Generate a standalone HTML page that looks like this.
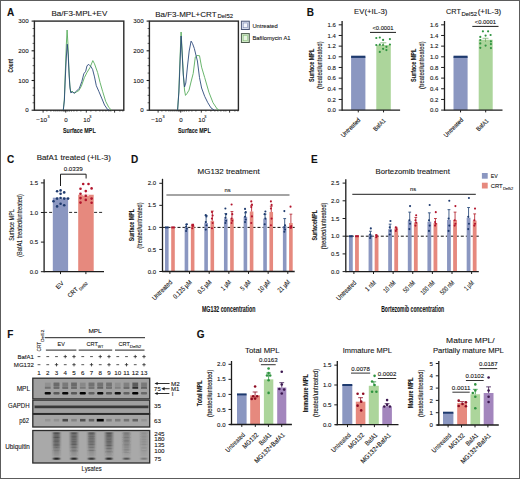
<!DOCTYPE html>
<html><head><meta charset="utf-8"><style>
html,body{margin:0;padding:0;background:#fff;}
svg{display:block;font-family:"Liberation Sans", sans-serif;}
text{stroke:#151515;stroke-width:0.1px;}
</style></head><body>
<svg width="520" height="479" viewBox="0 0 520 479" fill="#151515">
<rect width="520" height="479" fill="#fff"/>
<rect x="0.5" y="0.5" width="519" height="478" fill="none" stroke="#5c5c5c" stroke-width="1"/>
<text x="7" y="16" font-size="10" font-weight="bold" fill="#111">A</text>
<text x="306.8" y="15.5" font-size="10" font-weight="bold" fill="#111">B</text>
<text x="6.9" y="163" font-size="10" font-weight="bold" fill="#111">C</text>
<text x="130.9" y="162.8" font-size="10" font-weight="bold" fill="#111">D</text>
<text x="310.9" y="162.6" font-size="10" font-weight="bold" fill="#111">E</text>
<text x="7.3" y="337.8" font-size="10" font-weight="bold" fill="#111">F</text>
<text x="196.7" y="337.6" font-size="10" font-weight="bold" fill="#111">G</text>
<text x="51.5" y="16.1" font-size="8" textLength="55.8" lengthAdjust="spacingAndGlyphs">Ba/F3-MPL+EV</text>
<text x="155.2" y="16.6" font-size="8" textLength="61.4" lengthAdjust="spacingAndGlyphs">Ba/F3-MPL+CRT</text>
<text x="217.5" y="18.3" font-size="5.5" textLength="15.5" lengthAdjust="spacingAndGlyphs">Del52</text>
<rect x="34.4" y="21.1" width="89.4" height="89.1" fill="none" stroke="#2a2a2a" stroke-width="1.4"/>
<line x1="31.6" y1="21.1" x2="34.4" y2="21.1" stroke="#1c1c1c" stroke-width="1.1" />
<text x="28.7" y="23.3" font-size="6.2" text-anchor="end">300</text>
<line x1="31.6" y1="50.8" x2="34.4" y2="50.8" stroke="#1c1c1c" stroke-width="1.1" />
<text x="28.7" y="53" font-size="6.2" text-anchor="end">200</text>
<line x1="31.6" y1="80.5" x2="34.4" y2="80.5" stroke="#1c1c1c" stroke-width="1.1" />
<text x="28.7" y="82.7" font-size="6.2" text-anchor="end">100</text>
<line x1="31.6" y1="110.2" x2="34.4" y2="110.2" stroke="#1c1c1c" stroke-width="1.1" />
<text x="28.7" y="112.4" font-size="6.2" text-anchor="end">0</text>
<line x1="32.6" y1="28.53" x2="34.4" y2="28.53" stroke="#1c1c1c" stroke-width="0.7" />
<line x1="32.6" y1="35.95" x2="34.4" y2="35.95" stroke="#1c1c1c" stroke-width="0.7" />
<line x1="32.6" y1="43.38" x2="34.4" y2="43.38" stroke="#1c1c1c" stroke-width="0.7" />
<line x1="32.6" y1="58.23" x2="34.4" y2="58.23" stroke="#1c1c1c" stroke-width="0.7" />
<line x1="32.6" y1="65.65" x2="34.4" y2="65.65" stroke="#1c1c1c" stroke-width="0.7" />
<line x1="32.6" y1="73.08" x2="34.4" y2="73.08" stroke="#1c1c1c" stroke-width="0.7" />
<line x1="32.6" y1="87.93" x2="34.4" y2="87.93" stroke="#1c1c1c" stroke-width="0.7" />
<line x1="32.6" y1="95.35" x2="34.4" y2="95.35" stroke="#1c1c1c" stroke-width="0.7" />
<line x1="32.6" y1="102.78" x2="34.4" y2="102.78" stroke="#1c1c1c" stroke-width="0.7" />
<line x1="43.1" y1="110.2" x2="43.1" y2="112.6" stroke="#1c1c1c" stroke-width="0.9" />
<line x1="65.7" y1="110.2" x2="65.7" y2="112.6" stroke="#1c1c1c" stroke-width="0.9" />
<line x1="86.3" y1="110.2" x2="86.3" y2="112.6" stroke="#1c1c1c" stroke-width="0.9" />
<line x1="114.6" y1="110.2" x2="114.6" y2="112.6" stroke="#1c1c1c" stroke-width="0.9" />
<line x1="46.9" y1="110.2" x2="46.9" y2="111.8" stroke="#1c1c1c" stroke-width="0.5" />
<line x1="50.9" y1="110.2" x2="50.9" y2="111.8" stroke="#1c1c1c" stroke-width="0.5" />
<line x1="53.9" y1="110.2" x2="53.9" y2="111.8" stroke="#1c1c1c" stroke-width="0.5" />
<line x1="55.9" y1="110.2" x2="55.9" y2="111.8" stroke="#1c1c1c" stroke-width="0.5" />
<line x1="57.9" y1="110.2" x2="57.9" y2="111.8" stroke="#1c1c1c" stroke-width="0.5" />
<line x1="59.9" y1="110.2" x2="59.9" y2="111.8" stroke="#1c1c1c" stroke-width="0.5" />
<line x1="61.9" y1="110.2" x2="61.9" y2="111.8" stroke="#1c1c1c" stroke-width="0.5" />
<line x1="63.4" y1="110.2" x2="63.4" y2="111.8" stroke="#1c1c1c" stroke-width="0.5" />
<line x1="64.4" y1="110.2" x2="64.4" y2="111.8" stroke="#1c1c1c" stroke-width="0.5" />
<line x1="66.9" y1="110.2" x2="66.9" y2="111.8" stroke="#1c1c1c" stroke-width="0.5" />
<line x1="67.9" y1="110.2" x2="67.9" y2="111.8" stroke="#1c1c1c" stroke-width="0.5" />
<line x1="69.4" y1="110.2" x2="69.4" y2="111.8" stroke="#1c1c1c" stroke-width="0.5" />
<line x1="71.4" y1="110.2" x2="71.4" y2="111.8" stroke="#1c1c1c" stroke-width="0.5" />
<line x1="73.9" y1="110.2" x2="73.9" y2="111.8" stroke="#1c1c1c" stroke-width="0.5" />
<line x1="76.9" y1="110.2" x2="76.9" y2="111.8" stroke="#1c1c1c" stroke-width="0.5" />
<line x1="80.9" y1="110.2" x2="80.9" y2="111.8" stroke="#1c1c1c" stroke-width="0.5" />
<line x1="90.9" y1="110.2" x2="90.9" y2="111.8" stroke="#1c1c1c" stroke-width="0.5" />
<line x1="95.9" y1="110.2" x2="95.9" y2="111.8" stroke="#1c1c1c" stroke-width="0.5" />
<line x1="99.9" y1="110.2" x2="99.9" y2="111.8" stroke="#1c1c1c" stroke-width="0.5" />
<line x1="102.9" y1="110.2" x2="102.9" y2="111.8" stroke="#1c1c1c" stroke-width="0.5" />
<line x1="105.9" y1="110.2" x2="105.9" y2="111.8" stroke="#1c1c1c" stroke-width="0.5" />
<line x1="108.9" y1="110.2" x2="108.9" y2="111.8" stroke="#1c1c1c" stroke-width="0.5" />
<line x1="110.9" y1="110.2" x2="110.9" y2="111.8" stroke="#1c1c1c" stroke-width="0.5" />
<line x1="119.9" y1="110.2" x2="119.9" y2="111.8" stroke="#1c1c1c" stroke-width="0.5" />
<line x1="122.9" y1="110.2" x2="122.9" y2="111.8" stroke="#1c1c1c" stroke-width="0.5" />
<text x="36.2" y="121.6" font-size="6.2" textLength="11" lengthAdjust="spacingAndGlyphs">−10</text>
<text x="47.6" y="118.2" font-size="3.8">3</text>
<text x="65.9" y="121.6" font-size="6.2" text-anchor="middle">0</text>
<text x="83.2" y="121.6" font-size="6.2">10</text>
<text x="89.3" y="118.2" font-size="3.8">3</text>
<text x="63" y="132.9" font-size="7.8" font-weight="bold" textLength="32.7" lengthAdjust="spacingAndGlyphs">Surface MPL</text>
<rect x="149.4" y="21.1" width="89" height="89.1" fill="none" stroke="#2a2a2a" stroke-width="1.4"/>
<line x1="146.6" y1="21.1" x2="149.4" y2="21.1" stroke="#1c1c1c" stroke-width="1.1" />
<text x="143.7" y="23.3" font-size="6.2" text-anchor="end">300</text>
<line x1="146.6" y1="50.8" x2="149.4" y2="50.8" stroke="#1c1c1c" stroke-width="1.1" />
<text x="143.7" y="53" font-size="6.2" text-anchor="end">200</text>
<line x1="146.6" y1="80.5" x2="149.4" y2="80.5" stroke="#1c1c1c" stroke-width="1.1" />
<text x="143.7" y="82.7" font-size="6.2" text-anchor="end">100</text>
<line x1="146.6" y1="110.2" x2="149.4" y2="110.2" stroke="#1c1c1c" stroke-width="1.1" />
<text x="143.7" y="112.4" font-size="6.2" text-anchor="end">0</text>
<line x1="147.6" y1="28.53" x2="149.4" y2="28.53" stroke="#1c1c1c" stroke-width="0.7" />
<line x1="147.6" y1="35.95" x2="149.4" y2="35.95" stroke="#1c1c1c" stroke-width="0.7" />
<line x1="147.6" y1="43.38" x2="149.4" y2="43.38" stroke="#1c1c1c" stroke-width="0.7" />
<line x1="147.6" y1="58.23" x2="149.4" y2="58.23" stroke="#1c1c1c" stroke-width="0.7" />
<line x1="147.6" y1="65.65" x2="149.4" y2="65.65" stroke="#1c1c1c" stroke-width="0.7" />
<line x1="147.6" y1="73.08" x2="149.4" y2="73.08" stroke="#1c1c1c" stroke-width="0.7" />
<line x1="147.6" y1="87.93" x2="149.4" y2="87.93" stroke="#1c1c1c" stroke-width="0.7" />
<line x1="147.6" y1="95.35" x2="149.4" y2="95.35" stroke="#1c1c1c" stroke-width="0.7" />
<line x1="147.6" y1="102.78" x2="149.4" y2="102.78" stroke="#1c1c1c" stroke-width="0.7" />
<line x1="158.1" y1="110.2" x2="158.1" y2="112.6" stroke="#1c1c1c" stroke-width="0.9" />
<line x1="180.7" y1="110.2" x2="180.7" y2="112.6" stroke="#1c1c1c" stroke-width="0.9" />
<line x1="201.3" y1="110.2" x2="201.3" y2="112.6" stroke="#1c1c1c" stroke-width="0.9" />
<line x1="229.6" y1="110.2" x2="229.6" y2="112.6" stroke="#1c1c1c" stroke-width="0.9" />
<line x1="161.9" y1="110.2" x2="161.9" y2="111.8" stroke="#1c1c1c" stroke-width="0.5" />
<line x1="165.9" y1="110.2" x2="165.9" y2="111.8" stroke="#1c1c1c" stroke-width="0.5" />
<line x1="168.9" y1="110.2" x2="168.9" y2="111.8" stroke="#1c1c1c" stroke-width="0.5" />
<line x1="170.9" y1="110.2" x2="170.9" y2="111.8" stroke="#1c1c1c" stroke-width="0.5" />
<line x1="172.9" y1="110.2" x2="172.9" y2="111.8" stroke="#1c1c1c" stroke-width="0.5" />
<line x1="174.9" y1="110.2" x2="174.9" y2="111.8" stroke="#1c1c1c" stroke-width="0.5" />
<line x1="176.9" y1="110.2" x2="176.9" y2="111.8" stroke="#1c1c1c" stroke-width="0.5" />
<line x1="178.4" y1="110.2" x2="178.4" y2="111.8" stroke="#1c1c1c" stroke-width="0.5" />
<line x1="179.4" y1="110.2" x2="179.4" y2="111.8" stroke="#1c1c1c" stroke-width="0.5" />
<line x1="181.9" y1="110.2" x2="181.9" y2="111.8" stroke="#1c1c1c" stroke-width="0.5" />
<line x1="182.9" y1="110.2" x2="182.9" y2="111.8" stroke="#1c1c1c" stroke-width="0.5" />
<line x1="184.4" y1="110.2" x2="184.4" y2="111.8" stroke="#1c1c1c" stroke-width="0.5" />
<line x1="186.4" y1="110.2" x2="186.4" y2="111.8" stroke="#1c1c1c" stroke-width="0.5" />
<line x1="188.9" y1="110.2" x2="188.9" y2="111.8" stroke="#1c1c1c" stroke-width="0.5" />
<line x1="191.9" y1="110.2" x2="191.9" y2="111.8" stroke="#1c1c1c" stroke-width="0.5" />
<line x1="195.9" y1="110.2" x2="195.9" y2="111.8" stroke="#1c1c1c" stroke-width="0.5" />
<line x1="205.9" y1="110.2" x2="205.9" y2="111.8" stroke="#1c1c1c" stroke-width="0.5" />
<line x1="210.9" y1="110.2" x2="210.9" y2="111.8" stroke="#1c1c1c" stroke-width="0.5" />
<line x1="214.9" y1="110.2" x2="214.9" y2="111.8" stroke="#1c1c1c" stroke-width="0.5" />
<line x1="217.9" y1="110.2" x2="217.9" y2="111.8" stroke="#1c1c1c" stroke-width="0.5" />
<line x1="220.9" y1="110.2" x2="220.9" y2="111.8" stroke="#1c1c1c" stroke-width="0.5" />
<line x1="223.9" y1="110.2" x2="223.9" y2="111.8" stroke="#1c1c1c" stroke-width="0.5" />
<line x1="225.9" y1="110.2" x2="225.9" y2="111.8" stroke="#1c1c1c" stroke-width="0.5" />
<line x1="234.9" y1="110.2" x2="234.9" y2="111.8" stroke="#1c1c1c" stroke-width="0.5" />
<line x1="237.9" y1="110.2" x2="237.9" y2="111.8" stroke="#1c1c1c" stroke-width="0.5" />
<text x="151.2" y="121.6" font-size="6.2" textLength="11" lengthAdjust="spacingAndGlyphs">−10</text>
<text x="162.6" y="118.2" font-size="3.8">3</text>
<text x="180.9" y="121.6" font-size="6.2" text-anchor="middle">0</text>
<text x="198.2" y="121.6" font-size="6.2">10</text>
<text x="204.3" y="118.2" font-size="3.8">3</text>
<text x="178" y="132.9" font-size="7.8" font-weight="bold" textLength="32.7" lengthAdjust="spacingAndGlyphs">Surface MPL</text>
<text x="13.4" y="72.4" font-size="7.6" font-weight="bold" textLength="13.5" lengthAdjust="spacingAndGlyphs" transform="rotate(-90 13.4 72.4)">Count</text>
<polyline points="63.3,110 64.3,100 65.3,72 66.3,45 67.1,30 67.9,43 68.8,66 69.8,85 70.7,92 72,91.2 73.5,92.6 75,92.8 77,91.5 78.8,90.7 81.3,86.3 84.4,77.6 87,72.5 90,67.5 92.8,60.6 94.5,63.8 97.6,72.5 100.1,82.6 102.6,91.3 105.7,101.4 108.9,107.6 111.4,110" stroke="#58ad5c" stroke-width="0.9" fill="none" stroke-linejoin="round" />
<polyline points="63.3,110 64.4,100 65.4,76 66.4,56 67.3,44.2 68.2,55 69.1,75 70,88 70.8,92.8 72.5,92 74.4,93.2 76.3,91.3 79.4,88.2 81.9,81.3 83.8,73.8 85.7,71.3 87,65.7 88.8,64.4 90.7,66.3 92.6,69.4 94.5,76.9 96.3,85.7 98.8,91.3 102,98.9 104.5,105 107.6,109.5 109,110" stroke="#2d4a7c" stroke-width="0.9" fill="none" stroke-linejoin="round" />
<polyline points="177.6,110 178.8,92 180,58 181.1,32 182,48 183.3,74 184.5,90 185.5,95.4 187,93.5 189,90.2 191,82 193.2,73.5 195.3,57 197,55.5 199.5,55.7 201.6,67.2 204.7,77.6 208.9,92.2 213,102.7 217.2,109 219,110" stroke="#58ad5c" stroke-width="0.9" fill="none" stroke-linejoin="round" />
<polyline points="177.6,110 178.9,92 180.1,62 181.1,36 182.2,55 183.3,75 184.5,87 185.8,83 187.5,66 189.2,51 191.1,41.1 192.5,43.5 194.3,48.4 197.4,61 199.5,77.6 201.6,88 204.7,96.4 207.8,102.7 211,107.9 214,110" stroke="#2d4a7c" stroke-width="0.9" fill="none" stroke-linejoin="round" />
<rect x="241.4" y="21.2" width="7.9" height="8.3" fill="#d6dcec" stroke="#4d5878" stroke-width="1"/>
<rect x="243.2" y="23" width="4.3" height="4.7" fill="#f4f6fb" stroke="#7f8db5" stroke-width="0.6"/>
<rect x="241.4" y="33.6" width="7.9" height="8.9" fill="#cfe8c6" stroke="#4d5c4d" stroke-width="1"/>
<rect x="243.2" y="35.4" width="4.3" height="5.3" fill="#e8f5e3" stroke="#8cc27f" stroke-width="0.6"/>
<text x="252.4" y="27.7" font-size="6" textLength="25.4" lengthAdjust="spacingAndGlyphs">Untreated</text>
<text x="252.4" y="39.9" font-size="6" textLength="38.1" lengthAdjust="spacingAndGlyphs">Bafilomycin A1</text>
<line x1="342.1" y1="21" x2="342.1" y2="110.7" stroke="#1c1c1c" stroke-width="1.3" />
<line x1="338.7" y1="110.1" x2="342.1" y2="110.1" stroke="#1c1c1c" stroke-width="1" />
<text x="335.9" y="112.2" font-size="6" text-anchor="end">0.0</text>
<line x1="338.7" y1="99.44" x2="342.1" y2="99.44" stroke="#1c1c1c" stroke-width="1" />
<text x="335.9" y="101.54" font-size="6" text-anchor="end">0.2</text>
<line x1="338.7" y1="88.78" x2="342.1" y2="88.78" stroke="#1c1c1c" stroke-width="1" />
<text x="335.9" y="90.88" font-size="6" text-anchor="end">0.4</text>
<line x1="338.7" y1="78.12" x2="342.1" y2="78.12" stroke="#1c1c1c" stroke-width="1" />
<text x="335.9" y="80.22" font-size="6" text-anchor="end">0.6</text>
<line x1="338.7" y1="67.46" x2="342.1" y2="67.46" stroke="#1c1c1c" stroke-width="1" />
<text x="335.9" y="69.56" font-size="6" text-anchor="end">0.8</text>
<line x1="338.7" y1="56.8" x2="342.1" y2="56.8" stroke="#1c1c1c" stroke-width="1" />
<text x="335.9" y="58.9" font-size="6" text-anchor="end">1.0</text>
<line x1="338.7" y1="46.14" x2="342.1" y2="46.14" stroke="#1c1c1c" stroke-width="1" />
<text x="335.9" y="48.24" font-size="6" text-anchor="end">1.2</text>
<line x1="338.7" y1="35.48" x2="342.1" y2="35.48" stroke="#1c1c1c" stroke-width="1" />
<text x="335.9" y="37.58" font-size="6" text-anchor="end">1.4</text>
<line x1="338.7" y1="24.82" x2="342.1" y2="24.82" stroke="#1c1c1c" stroke-width="1" />
<text x="335.9" y="26.92" font-size="6" text-anchor="end">1.6</text>
<rect x="351.1" y="56.8" width="14.3" height="53.3" fill="#8b97c1" />
<rect x="351.1" y="55.7" width="14.3" height="2.2" fill="#1e3a6e" />
<rect x="376.3" y="45.07" width="14.5" height="65.03" fill="#acd59b" />
<line x1="342.1" y1="110.1" x2="400.1" y2="110.1" stroke="#1c1c1c" stroke-width="1.3" />
<line x1="358.25" y1="110.1" x2="358.25" y2="112.4" stroke="#1c1c1c" stroke-width="1" />
<line x1="383.55" y1="110.1" x2="383.55" y2="112.4" stroke="#1c1c1c" stroke-width="1" />
<circle cx="376.3" cy="38" r="1.1" fill="#2f9440"/>
<circle cx="379.8" cy="37.5" r="1.1" fill="#2f9440"/>
<circle cx="383.1" cy="39.9" r="1.1" fill="#2f9440"/>
<circle cx="389.9" cy="39.1" r="1.1" fill="#2f9440"/>
<circle cx="376.3" cy="45" r="1.1" fill="#2f9440"/>
<circle cx="379.8" cy="44.7" r="1.1" fill="#2f9440"/>
<circle cx="383.1" cy="45" r="1.1" fill="#2f9440"/>
<circle cx="386.4" cy="46.8" r="1.1" fill="#2f9440"/>
<circle cx="389.9" cy="44.5" r="1.1" fill="#2f9440"/>
<circle cx="383.1" cy="48.8" r="1.1" fill="#2f9440"/>
<circle cx="386.4" cy="50.1" r="1.1" fill="#2f9440"/>
<circle cx="379.8" cy="51.9" r="1.1" fill="#2f9440"/>
<line x1="370" y1="32.4" x2="396" y2="32.4" stroke="#1c1c1c" stroke-width="1" />
<text x="383" y="29.8" font-size="5.6" text-anchor="middle" textLength="21.2" lengthAdjust="spacingAndGlyphs">&lt;0.0001</text>
<text x="313.7" y="65.3" font-size="7.8" text-anchor="middle" font-weight="bold" textLength="33.2" lengthAdjust="spacingAndGlyphs" transform="rotate(-90 313.7 65.3)">Surface MPL</text>
<text x="322" y="65.2" font-size="7" text-anchor="middle" textLength="47.5" lengthAdjust="spacingAndGlyphs" transform="rotate(-90 322 65.2)">(treated/untreated)</text>
<text x="360.8" y="120.5" font-size="6.3" text-anchor="end" textLength="24.5" lengthAdjust="spacingAndGlyphs" transform="rotate(-45 360.8 120.5)">Untreated</text>
<text x="386" y="121.2" font-size="6.3" text-anchor="end" textLength="14.5" lengthAdjust="spacingAndGlyphs" transform="rotate(-45 386 121.2)">BafA1</text>
<line x1="383.3" y1="42.8" x2="383.3" y2="46" stroke="#6aa860" stroke-width="0.7" />
<line x1="380.3" y1="42.8" x2="386.3" y2="42.8" stroke="#6aa860" stroke-width="0.7" />
<text x="354.1" y="13.8" font-size="7.7" textLength="33.3" lengthAdjust="spacingAndGlyphs">EV(+IL-3)</text>
<line x1="444.5" y1="21" x2="444.5" y2="110.7" stroke="#1c1c1c" stroke-width="1.3" />
<line x1="441.1" y1="110.1" x2="444.5" y2="110.1" stroke="#1c1c1c" stroke-width="1" />
<text x="438.3" y="112.2" font-size="6" text-anchor="end">0.0</text>
<line x1="441.1" y1="99.44" x2="444.5" y2="99.44" stroke="#1c1c1c" stroke-width="1" />
<text x="438.3" y="101.54" font-size="6" text-anchor="end">0.2</text>
<line x1="441.1" y1="88.78" x2="444.5" y2="88.78" stroke="#1c1c1c" stroke-width="1" />
<text x="438.3" y="90.88" font-size="6" text-anchor="end">0.4</text>
<line x1="441.1" y1="78.12" x2="444.5" y2="78.12" stroke="#1c1c1c" stroke-width="1" />
<text x="438.3" y="80.22" font-size="6" text-anchor="end">0.6</text>
<line x1="441.1" y1="67.46" x2="444.5" y2="67.46" stroke="#1c1c1c" stroke-width="1" />
<text x="438.3" y="69.56" font-size="6" text-anchor="end">0.8</text>
<line x1="441.1" y1="56.8" x2="444.5" y2="56.8" stroke="#1c1c1c" stroke-width="1" />
<text x="438.3" y="58.9" font-size="6" text-anchor="end">1.0</text>
<line x1="441.1" y1="46.14" x2="444.5" y2="46.14" stroke="#1c1c1c" stroke-width="1" />
<text x="438.3" y="48.24" font-size="6" text-anchor="end">1.2</text>
<line x1="441.1" y1="35.48" x2="444.5" y2="35.48" stroke="#1c1c1c" stroke-width="1" />
<text x="438.3" y="37.58" font-size="6" text-anchor="end">1.4</text>
<line x1="441.1" y1="24.82" x2="444.5" y2="24.82" stroke="#1c1c1c" stroke-width="1" />
<text x="438.3" y="26.92" font-size="6" text-anchor="end">1.6</text>
<rect x="453.5" y="56.8" width="14.1" height="53.3" fill="#8b97c1" />
<rect x="453.5" y="55.7" width="14.1" height="2.2" fill="#1e3a6e" />
<rect x="478.7" y="39.74" width="14" height="70.36" fill="#acd59b" />
<line x1="444.5" y1="110.1" x2="502.5" y2="110.1" stroke="#1c1c1c" stroke-width="1.3" />
<line x1="460.55" y1="110.1" x2="460.55" y2="112.4" stroke="#1c1c1c" stroke-width="1" />
<line x1="485.7" y1="110.1" x2="485.7" y2="112.4" stroke="#1c1c1c" stroke-width="1" />
<circle cx="482.9" cy="31.3" r="1.1" fill="#2f9440"/>
<circle cx="488.1" cy="31.3" r="1.1" fill="#2f9440"/>
<circle cx="485.6" cy="35.6" r="1.1" fill="#2f9440"/>
<circle cx="490.6" cy="35" r="1.1" fill="#2f9440"/>
<circle cx="480.3" cy="36.9" r="1.1" fill="#2f9440"/>
<circle cx="480.3" cy="40" r="1.1" fill="#2f9440"/>
<circle cx="490.9" cy="41.3" r="1.1" fill="#2f9440"/>
<circle cx="480.3" cy="43.4" r="1.1" fill="#2f9440"/>
<circle cx="490.9" cy="44.1" r="1.1" fill="#2f9440"/>
<circle cx="485.6" cy="45.6" r="1.1" fill="#2f9440"/>
<circle cx="480.3" cy="47.8" r="1.1" fill="#2f9440"/>
<circle cx="490.9" cy="48.1" r="1.1" fill="#2f9440"/>
<line x1="472.3" y1="26.4" x2="498.5" y2="26.4" stroke="#1c1c1c" stroke-width="1" />
<text x="485.4" y="23.8" font-size="5.6" text-anchor="middle" textLength="21.2" lengthAdjust="spacingAndGlyphs">&lt;0.0001</text>
<text x="416.1" y="65.3" font-size="7.8" text-anchor="middle" font-weight="bold" textLength="33.2" lengthAdjust="spacingAndGlyphs" transform="rotate(-90 416.1 65.3)">Surface MPL</text>
<text x="424.4" y="65.2" font-size="7" text-anchor="middle" textLength="47.5" lengthAdjust="spacingAndGlyphs" transform="rotate(-90 424.4 65.2)">(treated/untreated)</text>
<text x="463.7" y="120.4" font-size="6.3" text-anchor="end" textLength="24.5" lengthAdjust="spacingAndGlyphs" transform="rotate(-45 463.7 120.4)">Untreated</text>
<text x="489" y="121.3" font-size="6.3" text-anchor="end" textLength="14.5" lengthAdjust="spacingAndGlyphs" transform="rotate(-45 489 121.3)">BafA1</text>
<line x1="485.5" y1="38.3" x2="485.5" y2="42" stroke="#6aa860" stroke-width="0.7" />
<line x1="482.5" y1="38.3" x2="488.5" y2="38.3" stroke="#6aa860" stroke-width="0.7" />
<text x="446.1" y="13.8" font-size="7.7" textLength="14.8" lengthAdjust="spacingAndGlyphs">CRT</text>
<text x="461.5" y="15.5" font-size="5.4" textLength="15.5" lengthAdjust="spacingAndGlyphs">Del52</text>
<text x="477.7" y="13.8" font-size="7.7" textLength="23.5" lengthAdjust="spacingAndGlyphs">(+IL-3)</text>
<line x1="44.1" y1="212.4" x2="104" y2="212.4" stroke="#111" stroke-width="0.9" stroke-dasharray="3 2"/>
<rect x="52.8" y="197.7" width="15.3" height="74" fill="#8b97c1" />
<rect x="78.2" y="194.74" width="15.5" height="76.96" fill="#e6897e" />
<line x1="44.1" y1="179.3" x2="44.1" y2="272.3" stroke="#1c1c1c" stroke-width="1.3" />
<line x1="40.9" y1="271.7" x2="44.1" y2="271.7" stroke="#1c1c1c" stroke-width="1" />
<text x="38" y="273.8" font-size="6" text-anchor="end">0.0</text>
<line x1="40.9" y1="242.1" x2="44.1" y2="242.1" stroke="#1c1c1c" stroke-width="1" />
<text x="38" y="244.2" font-size="6" text-anchor="end">0.5</text>
<line x1="40.9" y1="212.5" x2="44.1" y2="212.5" stroke="#1c1c1c" stroke-width="1" />
<text x="38" y="214.6" font-size="6" text-anchor="end">1.0</text>
<line x1="40.9" y1="182.9" x2="44.1" y2="182.9" stroke="#1c1c1c" stroke-width="1" />
<text x="38" y="185" font-size="6" text-anchor="end">1.5</text>
<line x1="44.1" y1="271.7" x2="104" y2="271.7" stroke="#1c1c1c" stroke-width="1.3" />
<line x1="60.5" y1="271.7" x2="60.5" y2="274.1" stroke="#1c1c1c" stroke-width="1" />
<line x1="85.9" y1="271.7" x2="85.9" y2="274.1" stroke="#1c1c1c" stroke-width="1" />
<line x1="60.5" y1="193.4" x2="60.5" y2="200" stroke="#eef0fa" stroke-width="0.8" />
<line x1="57.3" y1="193.4" x2="63.7" y2="193.4" stroke="#eef0fa" stroke-width="0.8" />
<line x1="57.3" y1="198.3" x2="63.7" y2="198.3" stroke="#eef0fa" stroke-width="0.8" />
<line x1="85.9" y1="191.2" x2="85.9" y2="197.5" stroke="#fde8e4" stroke-width="0.8" />
<line x1="82.7" y1="191.2" x2="89.1" y2="191.2" stroke="#fde8e4" stroke-width="0.8" />
<line x1="82.7" y1="195.6" x2="89.1" y2="195.6" stroke="#fde8e4" stroke-width="0.8" />
<circle cx="57.1" cy="191.3" r="1.3" fill="#1e3a6e"/>
<circle cx="60.6" cy="190.4" r="1.3" fill="#1e3a6e"/>
<circle cx="60.6" cy="193.7" r="1.3" fill="#1e3a6e"/>
<circle cx="64.2" cy="192.4" r="1.3" fill="#1e3a6e"/>
<circle cx="53.5" cy="201.2" r="1.3" fill="#1e3a6e"/>
<circle cx="57.1" cy="198.6" r="1.3" fill="#1e3a6e"/>
<circle cx="60.6" cy="198.1" r="1.3" fill="#1e3a6e"/>
<circle cx="64.2" cy="198.6" r="1.3" fill="#1e3a6e"/>
<circle cx="68.1" cy="198.6" r="1.3" fill="#1e3a6e"/>
<circle cx="60.6" cy="203.7" r="1.3" fill="#1e3a6e"/>
<circle cx="64.2" cy="205.2" r="1.3" fill="#1e3a6e"/>
<circle cx="57.1" cy="206.4" r="1.3" fill="#1e3a6e"/>
<circle cx="83.2" cy="184" r="1.3" fill="#b3152d"/>
<circle cx="88.5" cy="184" r="1.3" fill="#b3152d"/>
<circle cx="80.5" cy="188.8" r="1.3" fill="#b3152d"/>
<circle cx="91.6" cy="188.4" r="1.3" fill="#b3152d"/>
<circle cx="85.8" cy="191.1" r="1.3" fill="#b3152d"/>
<circle cx="80.5" cy="193.7" r="1.3" fill="#b3152d"/>
<circle cx="85.8" cy="195.9" r="1.3" fill="#b3152d"/>
<circle cx="80.5" cy="198.1" r="1.3" fill="#b3152d"/>
<circle cx="91.6" cy="198.6" r="1.3" fill="#b3152d"/>
<circle cx="85.8" cy="199.9" r="1.3" fill="#b3152d"/>
<circle cx="80.5" cy="202.6" r="1.3" fill="#b3152d"/>
<circle cx="91.6" cy="202.8" r="1.3" fill="#b3152d"/>
<polyline points="60.5,186 60.5,174.2 86.1,174.2 86.1,178.5" stroke="#1c1c1c" stroke-width="1" fill="none" stroke-linejoin="round" />
<text x="73.2" y="170.6" font-size="5.6" text-anchor="middle" textLength="19" lengthAdjust="spacingAndGlyphs">0.0339</text>
<text x="36.7" y="160.4" font-size="7.3" textLength="74.2" lengthAdjust="spacingAndGlyphs">BafA1 treated (+IL-3)</text>
<text x="14.1" y="225" font-size="7.8" text-anchor="middle" textLength="31.7" lengthAdjust="spacingAndGlyphs" transform="rotate(-90 14.1 225)">Surface MPL</text>
<text x="21.9" y="225.5" font-size="7.6" text-anchor="middle" textLength="62.6" lengthAdjust="spacingAndGlyphs" transform="rotate(-90 21.9 225.5)">(BafA1 treated/untreated)</text>
<text x="64.2" y="283.6" font-size="6.2" text-anchor="end" textLength="8.5" lengthAdjust="spacingAndGlyphs" transform="rotate(-45 64.2 283.6)">EV</text>
<text x="78.6" y="289.6" font-size="6.2" text-anchor="end" textLength="12" lengthAdjust="spacingAndGlyphs" transform="rotate(-45 78.6 289.6)">CRT</text>
<text x="88.2" y="283.6" font-size="4.3" text-anchor="end" textLength="10.5" lengthAdjust="spacingAndGlyphs" transform="rotate(-45 88.2 283.6)">Del52</text>
<line x1="162.5" y1="227.4" x2="294.7" y2="227.4" stroke="#111" stroke-width="1" stroke-dasharray="3 2"/>
<line x1="162.5" y1="178.8" x2="162.5" y2="272.1" stroke="#1c1c1c" stroke-width="1.3" />
<line x1="159.3" y1="271.5" x2="162.5" y2="271.5" stroke="#1c1c1c" stroke-width="1" />
<text x="156" y="273.6" font-size="6" text-anchor="end">0.0</text>
<line x1="159.3" y1="249.45" x2="162.5" y2="249.45" stroke="#1c1c1c" stroke-width="1" />
<text x="156" y="251.55" font-size="6" text-anchor="end">0.5</text>
<line x1="159.3" y1="227.4" x2="162.5" y2="227.4" stroke="#1c1c1c" stroke-width="1" />
<text x="156" y="229.5" font-size="6" text-anchor="end">1.0</text>
<line x1="159.3" y1="205.35" x2="162.5" y2="205.35" stroke="#1c1c1c" stroke-width="1" />
<text x="156" y="207.45" font-size="6" text-anchor="end">1.5</text>
<line x1="159.3" y1="183.3" x2="162.5" y2="183.3" stroke="#1c1c1c" stroke-width="1" />
<text x="156" y="185.4" font-size="6" text-anchor="end">2.0</text>
<rect x="165" y="227.4" width="3.6" height="44.1" fill="#8b97c1" />
<rect x="165" y="226.4" width="3.6" height="2" fill="#1e3a6e" />
<rect x="171.2" y="227.4" width="3.6" height="44.1" fill="#e6897e" />
<rect x="171.2" y="226.4" width="3.6" height="2" fill="#b3152d" />
<line x1="169.9" y1="271.5" x2="169.9" y2="273.9" stroke="#1c1c1c" stroke-width="1" />
<rect x="184.65" y="227.4" width="3.6" height="44.1" fill="#8b97c1" />
<line x1="186.45" y1="227.4" x2="186.45" y2="224.31" stroke="#31507f" stroke-width="0.9" />
<line x1="185.05" y1="224.31" x2="187.85" y2="224.31" stroke="#31507f" stroke-width="0.9" />
<circle cx="186.1" cy="230.93" r="1.05" fill="#1e3a6e"/>
<circle cx="186.8" cy="228.72" r="1.05" fill="#1e3a6e"/>
<circle cx="186.1" cy="226.52" r="1.05" fill="#1e3a6e"/>
<circle cx="186.8" cy="224.31" r="1.05" fill="#1e3a6e"/>
<rect x="190.85" y="225.19" width="3.6" height="46.31" fill="#e6897e" />
<line x1="192.65" y1="225.19" x2="192.65" y2="224.31" stroke="#b8303a" stroke-width="0.9" />
<line x1="191.25" y1="224.31" x2="194.05" y2="224.31" stroke="#b8303a" stroke-width="0.9" />
<circle cx="192.3" cy="228.28" r="1.05" fill="#b3152d"/>
<circle cx="193" cy="226.08" r="1.05" fill="#b3152d"/>
<circle cx="192.3" cy="225.19" r="1.05" fill="#b3152d"/>
<circle cx="193" cy="224.75" r="1.05" fill="#b3152d"/>
<line x1="189.55" y1="271.5" x2="189.55" y2="273.9" stroke="#1c1c1c" stroke-width="1" />
<rect x="204.3" y="222.99" width="3.6" height="48.51" fill="#8b97c1" />
<line x1="206.1" y1="222.99" x2="206.1" y2="215.49" stroke="#31507f" stroke-width="0.9" />
<line x1="204.7" y1="215.49" x2="207.5" y2="215.49" stroke="#31507f" stroke-width="0.9" />
<circle cx="205.75" cy="229.61" r="1.05" fill="#1e3a6e"/>
<circle cx="206.45" cy="225.19" r="1.05" fill="#1e3a6e"/>
<circle cx="205.75" cy="222.11" r="1.05" fill="#1e3a6e"/>
<circle cx="206.45" cy="216.38" r="1.05" fill="#1e3a6e"/>
<circle cx="205.75" cy="215.05" r="1.05" fill="#1e3a6e"/>
<rect x="210.5" y="220.78" width="3.6" height="50.71" fill="#e6897e" />
<line x1="212.3" y1="220.78" x2="212.3" y2="211.08" stroke="#b8303a" stroke-width="0.9" />
<line x1="210.9" y1="211.08" x2="213.7" y2="211.08" stroke="#b8303a" stroke-width="0.9" />
<circle cx="211.95" cy="228.28" r="1.05" fill="#b3152d"/>
<circle cx="212.65" cy="222.99" r="1.05" fill="#b3152d"/>
<circle cx="211.95" cy="218.58" r="1.05" fill="#b3152d"/>
<circle cx="212.65" cy="215.49" r="1.05" fill="#b3152d"/>
<circle cx="211.95" cy="211.97" r="1.05" fill="#b3152d"/>
<line x1="209.2" y1="271.5" x2="209.2" y2="273.9" stroke="#1c1c1c" stroke-width="1" />
<rect x="223.95" y="218.58" width="3.6" height="52.92" fill="#8b97c1" />
<line x1="225.75" y1="218.58" x2="225.75" y2="213.73" stroke="#31507f" stroke-width="0.9" />
<line x1="224.35" y1="213.73" x2="227.15" y2="213.73" stroke="#31507f" stroke-width="0.9" />
<circle cx="225.4" cy="222.99" r="1.05" fill="#1e3a6e"/>
<circle cx="226.1" cy="220.78" r="1.05" fill="#1e3a6e"/>
<circle cx="225.4" cy="217.7" r="1.05" fill="#1e3a6e"/>
<circle cx="226.1" cy="214.17" r="1.05" fill="#1e3a6e"/>
<circle cx="225.4" cy="208.44" r="1.05" fill="#1e3a6e"/>
<rect x="230.15" y="218.58" width="3.6" height="52.92" fill="#e6897e" />
<line x1="231.95" y1="218.58" x2="231.95" y2="211.52" stroke="#b8303a" stroke-width="0.9" />
<line x1="230.55" y1="211.52" x2="233.35" y2="211.52" stroke="#b8303a" stroke-width="0.9" />
<circle cx="231.6" cy="222.99" r="1.05" fill="#b3152d"/>
<circle cx="232.3" cy="220.78" r="1.05" fill="#b3152d"/>
<circle cx="231.6" cy="218.58" r="1.05" fill="#b3152d"/>
<circle cx="232.3" cy="214.17" r="1.05" fill="#b3152d"/>
<circle cx="231.6" cy="204.47" r="1.05" fill="#b3152d"/>
<line x1="228.85" y1="271.5" x2="228.85" y2="273.9" stroke="#1c1c1c" stroke-width="1" />
<rect x="243.6" y="216.82" width="3.6" height="54.68" fill="#8b97c1" />
<line x1="245.4" y1="216.82" x2="245.4" y2="212.85" stroke="#31507f" stroke-width="0.9" />
<line x1="244" y1="212.85" x2="246.8" y2="212.85" stroke="#31507f" stroke-width="0.9" />
<circle cx="245.05" cy="222.11" r="1.05" fill="#1e3a6e"/>
<circle cx="245.75" cy="219.46" r="1.05" fill="#1e3a6e"/>
<circle cx="245.05" cy="216.82" r="1.05" fill="#1e3a6e"/>
<circle cx="245.75" cy="211.97" r="1.05" fill="#1e3a6e"/>
<circle cx="245.05" cy="208.88" r="1.05" fill="#1e3a6e"/>
<rect x="249.8" y="211.52" width="3.6" height="59.98" fill="#e6897e" />
<line x1="251.6" y1="211.52" x2="251.6" y2="205.35" stroke="#b8303a" stroke-width="0.9" />
<line x1="250.2" y1="205.35" x2="253" y2="205.35" stroke="#b8303a" stroke-width="0.9" />
<circle cx="251.25" cy="222.99" r="1.05" fill="#b3152d"/>
<circle cx="251.95" cy="216.38" r="1.05" fill="#b3152d"/>
<circle cx="251.25" cy="207.11" r="1.05" fill="#b3152d"/>
<circle cx="251.95" cy="204.47" r="1.05" fill="#b3152d"/>
<circle cx="251.25" cy="201.38" r="1.05" fill="#b3152d"/>
<line x1="248.5" y1="271.5" x2="248.5" y2="273.9" stroke="#1c1c1c" stroke-width="1" />
<rect x="263.25" y="218.58" width="3.6" height="52.92" fill="#8b97c1" />
<line x1="265.05" y1="218.58" x2="265.05" y2="214.17" stroke="#31507f" stroke-width="0.9" />
<line x1="263.65" y1="214.17" x2="266.45" y2="214.17" stroke="#31507f" stroke-width="0.9" />
<circle cx="264.7" cy="224.31" r="1.05" fill="#1e3a6e"/>
<circle cx="265.4" cy="218.58" r="1.05" fill="#1e3a6e"/>
<circle cx="264.7" cy="214.17" r="1.05" fill="#1e3a6e"/>
<circle cx="265.4" cy="211.52" r="1.05" fill="#1e3a6e"/>
<rect x="269.45" y="211.97" width="3.6" height="59.54" fill="#e6897e" />
<line x1="271.25" y1="211.97" x2="271.25" y2="206.23" stroke="#b8303a" stroke-width="0.9" />
<line x1="269.85" y1="206.23" x2="272.65" y2="206.23" stroke="#b8303a" stroke-width="0.9" />
<circle cx="270.9" cy="225.19" r="1.05" fill="#b3152d"/>
<circle cx="271.6" cy="218.58" r="1.05" fill="#b3152d"/>
<circle cx="270.9" cy="208.44" r="1.05" fill="#b3152d"/>
<circle cx="271.6" cy="204.91" r="1.05" fill="#b3152d"/>
<circle cx="270.9" cy="201.38" r="1.05" fill="#b3152d"/>
<line x1="268.15" y1="271.5" x2="268.15" y2="273.9" stroke="#1c1c1c" stroke-width="1" />
<rect x="282.9" y="226.08" width="3.6" height="45.42" fill="#8b97c1" />
<line x1="284.7" y1="226.08" x2="284.7" y2="218.58" stroke="#31507f" stroke-width="0.9" />
<line x1="283.3" y1="218.58" x2="286.1" y2="218.58" stroke="#31507f" stroke-width="0.9" />
<circle cx="284.35" cy="231.81" r="1.05" fill="#1e3a6e"/>
<circle cx="285.05" cy="229.61" r="1.05" fill="#1e3a6e"/>
<circle cx="284.35" cy="227.4" r="1.05" fill="#1e3a6e"/>
<circle cx="285.05" cy="225.19" r="1.05" fill="#1e3a6e"/>
<circle cx="284.35" cy="211.08" r="1.05" fill="#1e3a6e"/>
<rect x="289.1" y="222.99" width="3.6" height="48.51" fill="#e6897e" />
<line x1="290.9" y1="222.99" x2="290.9" y2="214.17" stroke="#b8303a" stroke-width="0.9" />
<line x1="289.5" y1="214.17" x2="292.3" y2="214.17" stroke="#b8303a" stroke-width="0.9" />
<circle cx="290.55" cy="227.4" r="1.05" fill="#b3152d"/>
<circle cx="291.25" cy="227.4" r="1.05" fill="#b3152d"/>
<circle cx="290.55" cy="227.4" r="1.05" fill="#b3152d"/>
<circle cx="291.25" cy="226.08" r="1.05" fill="#b3152d"/>
<circle cx="290.55" cy="206.67" r="1.05" fill="#b3152d"/>
<line x1="287.8" y1="271.5" x2="287.8" y2="273.9" stroke="#1c1c1c" stroke-width="1" />
<line x1="162.5" y1="271.5" x2="294.7" y2="271.5" stroke="#1c1c1c" stroke-width="1.3" />
<line x1="166.4" y1="195" x2="289.5" y2="195" stroke="#4a4a4a" stroke-width="1.1" />
<text x="227.6" y="191.7" font-size="5.8" text-anchor="middle">ns</text>
<text x="197.5" y="174" font-size="7.3" textLength="62.2" lengthAdjust="spacingAndGlyphs">MG132 treatment</text>
<text x="172.7" y="282.7" font-size="6.8" text-anchor="end" textLength="25.5" lengthAdjust="spacingAndGlyphs" transform="rotate(-45 172.7 282.7)">Untreated</text>
<text x="192.35" y="282.7" font-size="6.8" text-anchor="end" textLength="23.5" lengthAdjust="spacingAndGlyphs" transform="rotate(-45 192.35 282.7)">0.125 μM</text>
<text x="212" y="282.7" font-size="6.8" text-anchor="end" textLength="16.7" lengthAdjust="spacingAndGlyphs" transform="rotate(-45 212 282.7)">0.5 μM</text>
<text x="231.65" y="282.7" font-size="6.8" text-anchor="end" textLength="11.6" lengthAdjust="spacingAndGlyphs" transform="rotate(-45 231.65 282.7)">1 μM</text>
<text x="251.3" y="282.7" font-size="6.8" text-anchor="end" textLength="11.6" lengthAdjust="spacingAndGlyphs" transform="rotate(-45 251.3 282.7)">5 μM</text>
<text x="270.95" y="282.7" font-size="6.8" text-anchor="end" textLength="14.6" lengthAdjust="spacingAndGlyphs" transform="rotate(-45 270.95 282.7)">10 μM</text>
<text x="290.6" y="282.7" font-size="6.8" text-anchor="end" textLength="14.6" lengthAdjust="spacingAndGlyphs" transform="rotate(-45 290.6 282.7)">21 μM</text>
<text x="202" y="311.6" font-size="8.2" font-weight="bold" textLength="53.4" lengthAdjust="spacingAndGlyphs">MG132 concentration</text>
<text x="133.8" y="225.1" font-size="7.6" text-anchor="middle" font-weight="bold" textLength="32.2" lengthAdjust="spacingAndGlyphs" transform="rotate(-90 133.8 225.1)">Surface MPL</text>
<text x="141.9" y="225.5" font-size="7.6" text-anchor="middle" textLength="46.1" lengthAdjust="spacingAndGlyphs" transform="rotate(-90 141.9 225.5)">(treated/untreated)</text>
<line x1="345.8" y1="236.2" x2="478.8" y2="236.2" stroke="#111" stroke-width="1" stroke-dasharray="3 2"/>
<line x1="345.8" y1="179.2" x2="345.8" y2="272.2" stroke="#1c1c1c" stroke-width="1.3" />
<line x1="342.6" y1="271.6" x2="345.8" y2="271.6" stroke="#1c1c1c" stroke-width="1" />
<text x="339.3" y="273.7" font-size="6" text-anchor="end">0.0</text>
<line x1="342.6" y1="253.9" x2="345.8" y2="253.9" stroke="#1c1c1c" stroke-width="1" />
<text x="339.3" y="256" font-size="6" text-anchor="end">0.5</text>
<line x1="342.6" y1="236.2" x2="345.8" y2="236.2" stroke="#1c1c1c" stroke-width="1" />
<text x="339.3" y="238.3" font-size="6" text-anchor="end">1.0</text>
<line x1="342.6" y1="218.5" x2="345.8" y2="218.5" stroke="#1c1c1c" stroke-width="1" />
<text x="339.3" y="220.6" font-size="6" text-anchor="end">1.5</text>
<line x1="342.6" y1="200.8" x2="345.8" y2="200.8" stroke="#1c1c1c" stroke-width="1" />
<text x="339.3" y="202.9" font-size="6" text-anchor="end">2.0</text>
<line x1="342.6" y1="183.1" x2="345.8" y2="183.1" stroke="#1c1c1c" stroke-width="1" />
<text x="339.3" y="185.2" font-size="6" text-anchor="end">2.5</text>
<rect x="348.95" y="236.2" width="3.8" height="35.4" fill="#8b97c1" />
<rect x="348.95" y="235.2" width="3.8" height="2" fill="#1e3a6e" />
<rect x="355.05" y="236.2" width="3.8" height="35.4" fill="#e6897e" />
<rect x="355.05" y="235.2" width="3.8" height="2" fill="#b3152d" />
<line x1="353.9" y1="271.6" x2="353.9" y2="274" stroke="#1c1c1c" stroke-width="1" />
<rect x="368.57" y="234.43" width="3.8" height="37.17" fill="#8b97c1" />
<line x1="370.47" y1="234.43" x2="370.47" y2="231.24" stroke="#31507f" stroke-width="0.9" />
<line x1="369.07" y1="231.24" x2="371.87" y2="231.24" stroke="#31507f" stroke-width="0.9" />
<circle cx="370.12" cy="237.97" r="1.05" fill="#1e3a6e"/>
<circle cx="370.82" cy="236.2" r="1.05" fill="#1e3a6e"/>
<circle cx="370.12" cy="234.43" r="1.05" fill="#1e3a6e"/>
<circle cx="370.82" cy="228.41" r="1.05" fill="#1e3a6e"/>
<rect x="374.67" y="236.2" width="3.8" height="35.4" fill="#e6897e" />
<line x1="376.57" y1="236.2" x2="376.57" y2="235.14" stroke="#b8303a" stroke-width="0.9" />
<line x1="375.17" y1="235.14" x2="377.97" y2="235.14" stroke="#b8303a" stroke-width="0.9" />
<circle cx="376.22" cy="237.26" r="1.05" fill="#b3152d"/>
<circle cx="376.92" cy="236.2" r="1.05" fill="#b3152d"/>
<circle cx="376.22" cy="235.14" r="1.05" fill="#b3152d"/>
<line x1="373.52" y1="271.6" x2="373.52" y2="274" stroke="#1c1c1c" stroke-width="1" />
<rect x="388.19" y="229.12" width="3.8" height="42.48" fill="#8b97c1" />
<line x1="390.09" y1="229.12" x2="390.09" y2="224.16" stroke="#31507f" stroke-width="0.9" />
<line x1="388.69" y1="224.16" x2="391.49" y2="224.16" stroke="#31507f" stroke-width="0.9" />
<circle cx="389.74" cy="234.43" r="1.05" fill="#1e3a6e"/>
<circle cx="390.44" cy="230.89" r="1.05" fill="#1e3a6e"/>
<circle cx="389.74" cy="227.35" r="1.05" fill="#1e3a6e"/>
<circle cx="390.44" cy="220.98" r="1.05" fill="#1e3a6e"/>
<rect x="394.29" y="228.41" width="3.8" height="43.19" fill="#e6897e" />
<line x1="396.19" y1="228.41" x2="396.19" y2="227.35" stroke="#b8303a" stroke-width="0.9" />
<line x1="394.79" y1="227.35" x2="397.59" y2="227.35" stroke="#b8303a" stroke-width="0.9" />
<circle cx="395.84" cy="230.89" r="1.05" fill="#b3152d"/>
<circle cx="396.54" cy="229.12" r="1.05" fill="#b3152d"/>
<circle cx="395.84" cy="227.35" r="1.05" fill="#b3152d"/>
<line x1="393.14" y1="271.6" x2="393.14" y2="274" stroke="#1c1c1c" stroke-width="1" />
<rect x="407.81" y="220.98" width="3.8" height="50.62" fill="#8b97c1" />
<line x1="409.71" y1="220.98" x2="409.71" y2="212.13" stroke="#31507f" stroke-width="0.9" />
<line x1="408.31" y1="212.13" x2="411.11" y2="212.13" stroke="#31507f" stroke-width="0.9" />
<circle cx="409.36" cy="229.12" r="1.05" fill="#1e3a6e"/>
<circle cx="410.06" cy="223.81" r="1.05" fill="#1e3a6e"/>
<circle cx="409.36" cy="220.27" r="1.05" fill="#1e3a6e"/>
<circle cx="410.06" cy="206.11" r="1.05" fill="#1e3a6e"/>
<rect x="413.91" y="222.39" width="3.8" height="49.21" fill="#e6897e" />
<line x1="415.81" y1="222.39" x2="415.81" y2="217.44" stroke="#b8303a" stroke-width="0.9" />
<line x1="414.41" y1="217.44" x2="417.21" y2="217.44" stroke="#b8303a" stroke-width="0.9" />
<circle cx="415.46" cy="225.58" r="1.05" fill="#b3152d"/>
<circle cx="416.16" cy="222.75" r="1.05" fill="#b3152d"/>
<circle cx="415.46" cy="220.27" r="1.05" fill="#b3152d"/>
<circle cx="416.16" cy="215.31" r="1.05" fill="#b3152d"/>
<line x1="412.76" y1="271.6" x2="412.76" y2="274" stroke="#1c1c1c" stroke-width="1" />
<rect x="427.43" y="221.69" width="3.8" height="49.91" fill="#8b97c1" />
<line x1="429.33" y1="221.69" x2="429.33" y2="212.84" stroke="#31507f" stroke-width="0.9" />
<line x1="427.93" y1="212.84" x2="430.73" y2="212.84" stroke="#31507f" stroke-width="0.9" />
<circle cx="428.98" cy="230.89" r="1.05" fill="#1e3a6e"/>
<circle cx="429.68" cy="225.58" r="1.05" fill="#1e3a6e"/>
<circle cx="428.98" cy="220.27" r="1.05" fill="#1e3a6e"/>
<circle cx="429.68" cy="205.05" r="1.05" fill="#1e3a6e"/>
<rect x="433.53" y="223.1" width="3.8" height="48.5" fill="#e6897e" />
<line x1="435.43" y1="223.1" x2="435.43" y2="218.5" stroke="#b8303a" stroke-width="0.9" />
<line x1="434.03" y1="218.5" x2="436.83" y2="218.5" stroke="#b8303a" stroke-width="0.9" />
<circle cx="435.08" cy="225.58" r="1.05" fill="#b3152d"/>
<circle cx="435.78" cy="223.81" r="1.05" fill="#b3152d"/>
<circle cx="435.08" cy="222.04" r="1.05" fill="#b3152d"/>
<circle cx="435.78" cy="212.13" r="1.05" fill="#b3152d"/>
<line x1="432.38" y1="271.6" x2="432.38" y2="274" stroke="#1c1c1c" stroke-width="1" />
<rect x="447.05" y="219.92" width="3.8" height="51.68" fill="#8b97c1" />
<line x1="448.95" y1="219.92" x2="448.95" y2="209.65" stroke="#31507f" stroke-width="0.9" />
<line x1="447.55" y1="209.65" x2="450.35" y2="209.65" stroke="#31507f" stroke-width="0.9" />
<circle cx="448.6" cy="230.89" r="1.05" fill="#1e3a6e"/>
<circle cx="449.3" cy="225.58" r="1.05" fill="#1e3a6e"/>
<circle cx="448.6" cy="218.5" r="1.05" fill="#1e3a6e"/>
<circle cx="449.3" cy="200.8" r="1.05" fill="#1e3a6e"/>
<rect x="453.15" y="219.92" width="3.8" height="51.68" fill="#e6897e" />
<line x1="455.05" y1="219.92" x2="455.05" y2="212.13" stroke="#b8303a" stroke-width="0.9" />
<line x1="453.65" y1="212.13" x2="456.45" y2="212.13" stroke="#b8303a" stroke-width="0.9" />
<circle cx="454.7" cy="225.58" r="1.05" fill="#b3152d"/>
<circle cx="455.4" cy="223.81" r="1.05" fill="#b3152d"/>
<circle cx="454.7" cy="220.27" r="1.05" fill="#b3152d"/>
<circle cx="455.4" cy="206.11" r="1.05" fill="#b3152d"/>
<line x1="452" y1="271.6" x2="452" y2="274" stroke="#1c1c1c" stroke-width="1" />
<rect x="466.67" y="217.79" width="3.8" height="53.81" fill="#8b97c1" />
<line x1="468.57" y1="217.79" x2="468.57" y2="207.53" stroke="#31507f" stroke-width="0.9" />
<line x1="467.17" y1="207.53" x2="469.97" y2="207.53" stroke="#31507f" stroke-width="0.9" />
<circle cx="468.22" cy="229.12" r="1.05" fill="#1e3a6e"/>
<circle cx="468.92" cy="223.81" r="1.05" fill="#1e3a6e"/>
<circle cx="468.22" cy="216.73" r="1.05" fill="#1e3a6e"/>
<circle cx="468.92" cy="197.97" r="1.05" fill="#1e3a6e"/>
<rect x="472.77" y="220.62" width="3.8" height="50.98" fill="#e6897e" />
<line x1="474.67" y1="220.62" x2="474.67" y2="213.9" stroke="#b8303a" stroke-width="0.9" />
<line x1="473.27" y1="213.9" x2="476.07" y2="213.9" stroke="#b8303a" stroke-width="0.9" />
<circle cx="474.32" cy="225.58" r="1.05" fill="#b3152d"/>
<circle cx="475.02" cy="223.81" r="1.05" fill="#b3152d"/>
<circle cx="474.32" cy="220.27" r="1.05" fill="#b3152d"/>
<circle cx="475.02" cy="208.59" r="1.05" fill="#b3152d"/>
<line x1="471.62" y1="271.6" x2="471.62" y2="274" stroke="#1c1c1c" stroke-width="1" />
<line x1="345.8" y1="271.6" x2="478.8" y2="271.6" stroke="#1c1c1c" stroke-width="1.3" />
<line x1="352.3" y1="194.4" x2="475.8" y2="194.4" stroke="#4a4a4a" stroke-width="1.1" />
<text x="413" y="191.1" font-size="5.8" text-anchor="middle">ns</text>
<text x="375.6" y="174" font-size="7.3" textLength="74.2" lengthAdjust="spacingAndGlyphs">Bortezomib treatment</text>
<text x="356.7" y="283.3" font-size="6.8" text-anchor="end" textLength="25" lengthAdjust="spacingAndGlyphs" transform="rotate(-45 356.7 283.3)">Untreated</text>
<text x="376.32" y="283.3" font-size="6.8" text-anchor="end" textLength="12" lengthAdjust="spacingAndGlyphs" transform="rotate(-45 376.32 283.3)">1 nM</text>
<text x="395.94" y="283.3" font-size="6.8" text-anchor="end" textLength="14" lengthAdjust="spacingAndGlyphs" transform="rotate(-45 395.94 283.3)">10 nM</text>
<text x="415.56" y="283.3" font-size="6.8" text-anchor="end" textLength="14" lengthAdjust="spacingAndGlyphs" transform="rotate(-45 415.56 283.3)">50 nM</text>
<text x="435.18" y="283.3" font-size="6.8" text-anchor="end" textLength="17" lengthAdjust="spacingAndGlyphs" transform="rotate(-45 435.18 283.3)">100 nM</text>
<text x="454.8" y="283.3" font-size="6.8" text-anchor="end" textLength="17" lengthAdjust="spacingAndGlyphs" transform="rotate(-45 454.8 283.3)">500 nM</text>
<text x="474.42" y="283.3" font-size="6.8" text-anchor="end" textLength="11" lengthAdjust="spacingAndGlyphs" transform="rotate(-45 474.42 283.3)">1 μM</text>
<text x="381.2" y="311.6" font-size="8.2" font-weight="bold" textLength="63" lengthAdjust="spacingAndGlyphs">Bortezomib concentration</text>
<text x="317.3" y="225.2" font-size="7.6" text-anchor="middle" font-weight="bold" textLength="30.6" lengthAdjust="spacingAndGlyphs" transform="rotate(-90 317.3 225.2)">SurfaceMPL</text>
<text x="325.9" y="225.9" font-size="7" text-anchor="middle" textLength="46.8" lengthAdjust="spacingAndGlyphs" transform="rotate(-90 325.9 225.9)">(treated/untreated)</text>
<rect x="481.9" y="173" width="5.8" height="5.7" fill="#8b97c1" />
<rect x="481.9" y="182.7" width="5.8" height="5.8" fill="#e6897e" />
<text x="490.8" y="177.9" font-size="6" textLength="7" lengthAdjust="spacingAndGlyphs">EV</text>
<text x="490.8" y="187.9" font-size="6" textLength="11.9" lengthAdjust="spacingAndGlyphs">CRT</text>
<text x="502.9" y="189.6" font-size="4.2" textLength="10.4" lengthAdjust="spacingAndGlyphs">Del52</text>
<text x="41.2" y="351.4" font-size="5.6" textLength="9.6" lengthAdjust="spacingAndGlyphs" transform="rotate(-90 41.2 351.4)">CRT</text>
<text x="43.8" y="341.8" font-size="4" textLength="12" lengthAdjust="spacingAndGlyphs" transform="rotate(-90 43.8 341.8)">Del52</text>
<line x1="44.8" y1="337.7" x2="145" y2="337.7" stroke="#222" stroke-width="1" />
<text x="95" y="333.2" font-size="5.8" text-anchor="middle" textLength="13.2" lengthAdjust="spacingAndGlyphs">MPL</text>
<line x1="45.9" y1="350.1" x2="76.4" y2="350.1" stroke="#222" stroke-width="1" />
<line x1="78.7" y1="350.1" x2="112.2" y2="350.1" stroke="#222" stroke-width="1" />
<line x1="115" y1="350.1" x2="144.5" y2="350.1" stroke="#222" stroke-width="1" />
<text x="61.2" y="345.9" font-size="5.8" text-anchor="middle" textLength="7.2" lengthAdjust="spacingAndGlyphs">EV</text>
<text x="86.5" y="345.9" font-size="5.8" textLength="11.3" lengthAdjust="spacingAndGlyphs">CRT</text>
<text x="97.8" y="347.5" font-size="3.8" textLength="5.6" lengthAdjust="spacingAndGlyphs">WT</text>
<text x="118.5" y="345.9" font-size="5.8" textLength="11.3" lengthAdjust="spacingAndGlyphs">CRT</text>
<text x="129.8" y="347.5" font-size="3.8" textLength="11.5" lengthAdjust="spacingAndGlyphs">Del52</text>
<text x="33.8" y="358.8" font-size="6.1" text-anchor="end" textLength="16.3" lengthAdjust="spacingAndGlyphs">BafA1</text>
<text x="33.8" y="366.9" font-size="6.1" text-anchor="end" textLength="20" lengthAdjust="spacingAndGlyphs">MG132</text>
<line x1="37.6" y1="356.6" x2="40.4" y2="356.6" stroke="#2a2a2a" stroke-width="0.8" />
<line x1="37.6" y1="364.7" x2="40.4" y2="364.7" stroke="#2a2a2a" stroke-width="0.8" />
<text x="39" y="375" font-size="6.2" text-anchor="middle">1</text>
<line x1="46.35" y1="356.6" x2="49.15" y2="356.6" stroke="#2a2a2a" stroke-width="0.8" />
<line x1="46.35" y1="364.7" x2="49.15" y2="364.7" stroke="#2a2a2a" stroke-width="0.8" />
<text x="47.75" y="375" font-size="6.2" text-anchor="middle">2</text>
<line x1="55.1" y1="356.6" x2="57.9" y2="356.6" stroke="#2a2a2a" stroke-width="0.8" />
<line x1="54.8" y1="364.7" x2="58.2" y2="364.7" stroke="#2a2a2a" stroke-width="0.8" />
<line x1="56.5" y1="363" x2="56.5" y2="366.4" stroke="#2a2a2a" stroke-width="0.8" />
<text x="56.5" y="375" font-size="6.2" text-anchor="middle">3</text>
<line x1="63.55" y1="356.6" x2="66.95" y2="356.6" stroke="#2a2a2a" stroke-width="0.8" />
<line x1="65.25" y1="354.9" x2="65.25" y2="358.3" stroke="#2a2a2a" stroke-width="0.8" />
<line x1="63.85" y1="364.7" x2="66.65" y2="364.7" stroke="#2a2a2a" stroke-width="0.8" />
<text x="65.25" y="375" font-size="6.2" text-anchor="middle">4</text>
<line x1="72.3" y1="356.6" x2="75.7" y2="356.6" stroke="#2a2a2a" stroke-width="0.8" />
<line x1="74" y1="354.9" x2="74" y2="358.3" stroke="#2a2a2a" stroke-width="0.8" />
<line x1="72.3" y1="364.7" x2="75.7" y2="364.7" stroke="#2a2a2a" stroke-width="0.8" />
<line x1="74" y1="363" x2="74" y2="366.4" stroke="#2a2a2a" stroke-width="0.8" />
<text x="74" y="375" font-size="6.2" text-anchor="middle">5</text>
<line x1="81.35" y1="356.6" x2="84.15" y2="356.6" stroke="#2a2a2a" stroke-width="0.8" />
<line x1="81.35" y1="364.7" x2="84.15" y2="364.7" stroke="#2a2a2a" stroke-width="0.8" />
<text x="82.75" y="375" font-size="6.2" text-anchor="middle">6</text>
<line x1="90.1" y1="356.6" x2="92.9" y2="356.6" stroke="#2a2a2a" stroke-width="0.8" />
<line x1="89.8" y1="364.7" x2="93.2" y2="364.7" stroke="#2a2a2a" stroke-width="0.8" />
<line x1="91.5" y1="363" x2="91.5" y2="366.4" stroke="#2a2a2a" stroke-width="0.8" />
<text x="91.5" y="375" font-size="6.2" text-anchor="middle">7</text>
<line x1="98.55" y1="356.6" x2="101.95" y2="356.6" stroke="#2a2a2a" stroke-width="0.8" />
<line x1="100.25" y1="354.9" x2="100.25" y2="358.3" stroke="#2a2a2a" stroke-width="0.8" />
<line x1="98.85" y1="364.7" x2="101.65" y2="364.7" stroke="#2a2a2a" stroke-width="0.8" />
<text x="100.25" y="375" font-size="6.2" text-anchor="middle">8</text>
<line x1="107.3" y1="356.6" x2="110.7" y2="356.6" stroke="#2a2a2a" stroke-width="0.8" />
<line x1="109" y1="354.9" x2="109" y2="358.3" stroke="#2a2a2a" stroke-width="0.8" />
<line x1="107.3" y1="364.7" x2="110.7" y2="364.7" stroke="#2a2a2a" stroke-width="0.8" />
<line x1="109" y1="363" x2="109" y2="366.4" stroke="#2a2a2a" stroke-width="0.8" />
<text x="109" y="375" font-size="6.2" text-anchor="middle">9</text>
<line x1="116.35" y1="356.6" x2="119.15" y2="356.6" stroke="#2a2a2a" stroke-width="0.8" />
<line x1="116.35" y1="364.7" x2="119.15" y2="364.7" stroke="#2a2a2a" stroke-width="0.8" />
<text x="117.75" y="375" font-size="6.2" text-anchor="middle">10</text>
<line x1="125.1" y1="356.6" x2="127.9" y2="356.6" stroke="#2a2a2a" stroke-width="0.8" />
<line x1="124.8" y1="364.7" x2="128.2" y2="364.7" stroke="#2a2a2a" stroke-width="0.8" />
<line x1="126.5" y1="363" x2="126.5" y2="366.4" stroke="#2a2a2a" stroke-width="0.8" />
<text x="126.5" y="375" font-size="6.2" text-anchor="middle">11</text>
<line x1="133.55" y1="356.6" x2="136.95" y2="356.6" stroke="#2a2a2a" stroke-width="0.8" />
<line x1="135.25" y1="354.9" x2="135.25" y2="358.3" stroke="#2a2a2a" stroke-width="0.8" />
<line x1="133.85" y1="364.7" x2="136.65" y2="364.7" stroke="#2a2a2a" stroke-width="0.8" />
<text x="135.25" y="375" font-size="6.2" text-anchor="middle">12</text>
<line x1="142.3" y1="356.6" x2="145.7" y2="356.6" stroke="#2a2a2a" stroke-width="0.8" />
<line x1="144" y1="354.9" x2="144" y2="358.3" stroke="#2a2a2a" stroke-width="0.8" />
<line x1="142.3" y1="364.7" x2="145.7" y2="364.7" stroke="#2a2a2a" stroke-width="0.8" />
<line x1="144" y1="363" x2="144" y2="366.4" stroke="#2a2a2a" stroke-width="0.8" />
<text x="144" y="375" font-size="6.2" text-anchor="middle">13</text>
<defs><filter id="bl" x="-50%" y="-50%" width="200%" height="200%"><feGaussianBlur stdDeviation="0.65"/></filter><filter id="bl2" x="-50%" y="-50%" width="200%" height="200%"><feGaussianBlur stdDeviation="0.8 0.6"/></filter><linearGradient id="smg" x1="0" y1="0" x2="0" y2="1"><stop offset="0" stop-color="#2a2a2a" stop-opacity="0.55"/><stop offset="0.45" stop-color="#2a2a2a" stop-opacity="0.5"/><stop offset="0.8" stop-color="#2a2a2a" stop-opacity="0.25"/><stop offset="1" stop-color="#2a2a2a" stop-opacity="0.15"/></linearGradient></defs>
<rect x="32.8" y="378.2" width="116.9" height="20.7" fill="#a0a0a0" stroke="#2c2c2c" stroke-width="1.3"/>
<rect x="32.8" y="400.1" width="116.9" height="13.5" fill="#a0a0a0" stroke="#2c2c2c" stroke-width="1.3"/>
<rect x="32.8" y="414.3" width="116.9" height="12.7" fill="#a5a5a5" stroke="#2c2c2c" stroke-width="1.3"/>
<rect x="32.8" y="430.5" width="116.9" height="32.5" fill="#a9a9a9" stroke="#2c2c2c" stroke-width="1.3"/>
<g filter="url(#bl)"><rect x="44.65" y="392" width="6.2" height="2.5" rx="1" fill="#050505" opacity="0.95"/><rect x="44.85" y="382.6" width="5.8" height="3.6" fill="#1a1a1a" opacity="0.1"/><rect x="44.85" y="386.6" width="5.8" height="2.2" fill="#111" opacity="0.3"/><rect x="53.4" y="392" width="6.2" height="2.5" rx="1" fill="#050505" opacity="0.45"/><rect x="53.6" y="382.6" width="5.8" height="3.6" fill="#1a1a1a" opacity="0.4"/><rect x="53.6" y="386.6" width="5.8" height="2.2" fill="#111" opacity="0.4"/><rect x="62.15" y="392" width="6.2" height="2.5" rx="1" fill="#050505" opacity="0.95"/><rect x="62.35" y="382.6" width="5.8" height="3.6" fill="#1a1a1a" opacity="0.3"/><rect x="62.35" y="386.6" width="5.8" height="2.2" fill="#111" opacity="0.4"/><rect x="70.9" y="392" width="6.2" height="2.5" rx="1" fill="#050505" opacity="0.45"/><rect x="71.1" y="382.6" width="5.8" height="3.6" fill="#1a1a1a" opacity="0.4"/><rect x="71.1" y="386.6" width="5.8" height="2.2" fill="#111" opacity="0.4"/><rect x="79.65" y="392" width="6.2" height="2.5" rx="1" fill="#050505" opacity="1"/><rect x="79.85" y="382.6" width="5.8" height="3.6" fill="#1a1a1a" opacity="0.15"/><rect x="79.85" y="386.6" width="5.8" height="2.2" fill="#111" opacity="0.25"/><rect x="88.4" y="392" width="6.2" height="2.5" rx="1" fill="#050505" opacity="0.4"/><rect x="88.6" y="382.6" width="5.8" height="3.6" fill="#1a1a1a" opacity="0.35"/><rect x="88.6" y="386.6" width="5.8" height="2.2" fill="#111" opacity="0.35"/><rect x="97.15" y="392" width="6.2" height="2.5" rx="1" fill="#050505" opacity="0.95"/><rect x="97.35" y="382.6" width="5.8" height="3.6" fill="#1a1a1a" opacity="0.35"/><rect x="97.35" y="386.6" width="5.8" height="2.2" fill="#111" opacity="0.45"/><rect x="105.9" y="392" width="6.2" height="2.5" rx="1" fill="#050505" opacity="0.45"/><rect x="106.1" y="382.6" width="5.8" height="3.6" fill="#1a1a1a" opacity="0.35"/><rect x="106.1" y="386.6" width="5.8" height="2.2" fill="#111" opacity="0.35"/><rect x="114.65" y="392" width="6.2" height="2.5" rx="1" fill="#050505" opacity="0.9"/><rect x="114.85" y="382.6" width="5.8" height="3.6" fill="#1a1a1a" opacity="0.1"/><rect x="114.85" y="386.6" width="5.8" height="2.2" fill="#111" opacity="0.2"/><rect x="123.4" y="392" width="6.2" height="2.5" rx="1" fill="#050505" opacity="0.4"/><rect x="123.6" y="382.6" width="5.8" height="3.6" fill="#1a1a1a" opacity="0.2"/><rect x="123.6" y="386.6" width="5.8" height="2.2" fill="#111" opacity="0.4"/><rect x="132.15" y="392" width="6.2" height="2.5" rx="1" fill="#050505" opacity="1"/><rect x="132.35" y="382.6" width="5.8" height="3.6" fill="#1a1a1a" opacity="0.5"/><rect x="132.35" y="386.6" width="5.8" height="2.2" fill="#111" opacity="0.8"/><rect x="140.9" y="392" width="6.2" height="2.5" rx="1" fill="#050505" opacity="0.35"/><rect x="141.1" y="382.6" width="5.8" height="3.6" fill="#1a1a1a" opacity="0.3"/><rect x="141.1" y="386.6" width="5.8" height="2.2" fill="#111" opacity="0.45"/><rect x="34.5" y="405.5" width="114" height="2.7" fill="#151515" opacity="0.72"/><rect x="45" y="418.9" width="5.5" height="2.6" fill="#050505" opacity="0.1"/><rect x="53.75" y="418.9" width="5.5" height="2.6" fill="#050505" opacity="0.12"/><rect x="62.5" y="418.9" width="5.5" height="2.6" fill="#050505" opacity="0.55"/><rect x="71.25" y="418.9" width="5.5" height="2.6" fill="#050505" opacity="0.2"/><rect x="80" y="418.9" width="5.5" height="2.6" fill="#050505" opacity="0.5"/><rect x="88.75" y="418.9" width="5.5" height="2.6" fill="#050505" opacity="0.4"/><rect x="96.75" y="418.9" width="7" height="2.6" fill="#050505" opacity="1"/><rect x="106.25" y="418.9" width="5.5" height="2.6" fill="#050505" opacity="0.25"/><rect x="115" y="418.9" width="5.5" height="2.6" fill="#050505" opacity="0.25"/><rect x="123.75" y="418.9" width="5.5" height="2.6" fill="#050505" opacity="0.3"/><rect x="132.5" y="418.9" width="5.5" height="2.6" fill="#050505" opacity="0.4"/><rect x="141.25" y="418.9" width="5.5" height="2.6" fill="#050505" opacity="0.1"/></g>
<g filter="url(#bl2)"><rect x="53" y="432" width="7" height="24.5" fill="url(#smg)" opacity="0.95"/><rect x="53.4" y="433" width="6.2" height="1.07" fill="#111" opacity="0.23"/><rect x="53.4" y="436.71" width="6.2" height="1.27" fill="#111" opacity="0.23"/><rect x="53.4" y="440.83" width="6.2" height="0.72" fill="#111" opacity="0.17"/><rect x="53.4" y="444.45" width="6.2" height="1.09" fill="#111" opacity="0.26"/><rect x="53.4" y="446.94" width="6.2" height="0.98" fill="#111" opacity="0.13"/><rect x="53.4" y="450.1" width="6.2" height="1.04" fill="#111" opacity="0.08"/><rect x="53.4" y="457.6" width="6.2" height="2.1" fill="#0a0a0a" opacity="0.85"/><rect x="70.5" y="432" width="7" height="24.5" fill="url(#smg)" opacity="0.9"/><rect x="70.9" y="433" width="6.2" height="0.87" fill="#111" opacity="0.25"/><rect x="70.9" y="436.45" width="6.2" height="0.8" fill="#111" opacity="0.23"/><rect x="70.9" y="438.69" width="6.2" height="1.07" fill="#111" opacity="0.1"/><rect x="70.9" y="440.97" width="6.2" height="1.22" fill="#111" opacity="0.11"/><rect x="70.9" y="443.78" width="6.2" height="1.29" fill="#111" opacity="0.24"/><rect x="70.9" y="446.79" width="6.2" height="1.28" fill="#111" opacity="0.18"/><rect x="70.9" y="450.48" width="6.2" height="0.82" fill="#111" opacity="0.26"/><rect x="70.9" y="457.6" width="6.2" height="2.1" fill="#0a0a0a" opacity="0.81"/><rect x="88" y="432" width="7" height="24.5" fill="url(#smg)" opacity="0.8"/><rect x="88.4" y="433" width="6.2" height="1.28" fill="#111" opacity="0.22"/><rect x="88.4" y="436.02" width="6.2" height="0.92" fill="#111" opacity="0.09"/><rect x="88.4" y="438.4" width="6.2" height="0.74" fill="#111" opacity="0.12"/><rect x="88.4" y="441.42" width="6.2" height="0.7" fill="#111" opacity="0.18"/><rect x="88.4" y="443.93" width="6.2" height="0.89" fill="#111" opacity="0.21"/><rect x="88.4" y="446.88" width="6.2" height="0.89" fill="#111" opacity="0.15"/><rect x="88.4" y="450.24" width="6.2" height="0.73" fill="#111" opacity="0.24"/><rect x="88.4" y="457.6" width="6.2" height="2.1" fill="#0a0a0a" opacity="0.72"/><rect x="105.5" y="432" width="7" height="24.5" fill="url(#smg)" opacity="0.9"/><rect x="105.9" y="433" width="6.2" height="1.15" fill="#111" opacity="0.24"/><rect x="105.9" y="435.38" width="6.2" height="1.17" fill="#111" opacity="0.14"/><rect x="105.9" y="438.8" width="6.2" height="0.71" fill="#111" opacity="0.08"/><rect x="105.9" y="441.03" width="6.2" height="1.27" fill="#111" opacity="0.11"/><rect x="105.9" y="444.86" width="6.2" height="1.26" fill="#111" opacity="0.26"/><rect x="105.9" y="447.94" width="6.2" height="0.91" fill="#111" opacity="0.18"/><rect x="105.9" y="451.45" width="6.2" height="0.76" fill="#111" opacity="0.22"/><rect x="105.9" y="457.6" width="6.2" height="2.1" fill="#0a0a0a" opacity="0.81"/><rect x="123" y="432" width="7" height="24.5" fill="url(#smg)" opacity="0.55"/><rect x="123.4" y="433" width="6.2" height="1.22" fill="#111" opacity="0.05"/><rect x="123.4" y="437.12" width="6.2" height="0.75" fill="#111" opacity="0.09"/><rect x="123.4" y="440.17" width="6.2" height="1.25" fill="#111" opacity="0.09"/><rect x="123.4" y="444.29" width="6.2" height="1.03" fill="#111" opacity="0.08"/><rect x="123.4" y="447.08" width="6.2" height="0.81" fill="#111" opacity="0.05"/><rect x="123.4" y="449.36" width="6.2" height="1.11" fill="#111" opacity="0.16"/><rect x="123.4" y="451.96" width="6.2" height="0.73" fill="#111" opacity="0.16"/><rect x="123.4" y="457.6" width="6.2" height="2.1" fill="#0a0a0a" opacity="0.5"/><rect x="140.5" y="432" width="7" height="24.5" fill="url(#smg)" opacity="0.3"/><rect x="140.9" y="433" width="6.2" height="0.94" fill="#111" opacity="0.04"/><rect x="140.9" y="436.21" width="6.2" height="1.2" fill="#111" opacity="0.05"/><rect x="140.9" y="439.37" width="6.2" height="0.73" fill="#111" opacity="0.08"/><rect x="140.9" y="441.36" width="6.2" height="1" fill="#111" opacity="0.08"/><rect x="140.9" y="443.79" width="6.2" height="1.14" fill="#111" opacity="0.09"/><rect x="140.9" y="447.26" width="6.2" height="1.17" fill="#111" opacity="0.03"/><rect x="140.9" y="450.42" width="6.2" height="0.79" fill="#111" opacity="0.08"/><rect x="140.9" y="457.6" width="6.2" height="2.1" fill="#0a0a0a" opacity="0.27"/></g>
<text x="30.1" y="391.4" font-size="6.6" text-anchor="end" textLength="13.4" lengthAdjust="spacingAndGlyphs">MPL</text>
<text x="29.6" y="408.2" font-size="6.3" text-anchor="end" textLength="21.5" lengthAdjust="spacingAndGlyphs">GAPDH</text>
<text x="29" y="423.4" font-size="6.3" text-anchor="end" textLength="9.8" lengthAdjust="spacingAndGlyphs">p62</text>
<text x="29.8" y="448.8" font-size="6.3" text-anchor="end" textLength="24.5" lengthAdjust="spacingAndGlyphs">Ubiquitin</text>
<text x="91.6" y="471.4" font-size="6.5" text-anchor="middle" textLength="20" lengthAdjust="spacingAndGlyphs">Lysates</text>
<line x1="156.5" y1="383.5" x2="169.6" y2="383.5" stroke="#1a1a1a" stroke-width="0.9" />
<polygon points="154.5,383.5 157.7,382 157.7,385" fill="#1a1a1a"/>
<line x1="163.4" y1="388.7" x2="169.6" y2="388.7" stroke="#1a1a1a" stroke-width="0.9" />
<polygon points="161.4,388.7 164.6,387 164.6,390.4" fill="#1a1a1a"/>
<line x1="156.5" y1="393.5" x2="169.4" y2="393.5" stroke="#1a1a1a" stroke-width="0.9" />
<polygon points="154.5,393.5 157.7,392 157.7,395" fill="#1a1a1a"/>
<text x="171" y="385.6" font-size="5.8" textLength="8.7" lengthAdjust="spacingAndGlyphs">M2</text>
<text x="171" y="390.7" font-size="5.8" textLength="8.4" lengthAdjust="spacingAndGlyphs">M1</text>
<text x="171.8" y="395.9" font-size="5.8">I</text>
<text x="154.1" y="390.8" font-size="6" textLength="6.6" lengthAdjust="spacingAndGlyphs">75</text>
<text x="154.1" y="408.2" font-size="6.2" textLength="6.9" lengthAdjust="spacingAndGlyphs">35</text>
<text x="154.1" y="422.7" font-size="6.2" textLength="6.9" lengthAdjust="spacingAndGlyphs">63</text>
<text x="154.2" y="435.6" font-size="6" textLength="10.4" lengthAdjust="spacingAndGlyphs">245</text>
<text x="154.2" y="441.2" font-size="6" textLength="10.4" lengthAdjust="spacingAndGlyphs">180</text>
<text x="154.2" y="447" font-size="6" textLength="10.4" lengthAdjust="spacingAndGlyphs">135</text>
<text x="154.2" y="453.2" font-size="6" textLength="10.4" lengthAdjust="spacingAndGlyphs">100</text>
<text x="154.2" y="461.3" font-size="6" textLength="6.9" lengthAdjust="spacingAndGlyphs">75</text>
<line x1="231.5" y1="361" x2="231.5" y2="425.1" stroke="#1c1c1c" stroke-width="1.3" />
<line x1="228.5" y1="424.5" x2="231.5" y2="424.5" stroke="#1c1c1c" stroke-width="1" />
<text x="225.6" y="426.6" font-size="6.1" text-anchor="end">0.0</text>
<line x1="228.5" y1="409.45" x2="231.5" y2="409.45" stroke="#1c1c1c" stroke-width="1" />
<text x="225.6" y="411.55" font-size="6.1" text-anchor="end">0.5</text>
<line x1="228.5" y1="394.4" x2="231.5" y2="394.4" stroke="#1c1c1c" stroke-width="1" />
<text x="225.6" y="396.5" font-size="6.1" text-anchor="end">1.0</text>
<line x1="228.5" y1="379.35" x2="231.5" y2="379.35" stroke="#1c1c1c" stroke-width="1" />
<text x="225.6" y="381.45" font-size="6.1" text-anchor="end">1.5</text>
<line x1="228.5" y1="364.3" x2="231.5" y2="364.3" stroke="#1c1c1c" stroke-width="1" />
<text x="225.6" y="366.4" font-size="6.1" text-anchor="end">2.0</text>
<rect x="237" y="394.4" width="9.6" height="30.1" fill="#8b97c1" />
<rect x="237" y="393.4" width="9.6" height="2" fill="#1e3a6e" />
<rect x="250.2" y="395.3" width="9.8" height="29.2" fill="#e6897e" />
<line x1="255.1" y1="395.3" x2="255.1" y2="391.99" stroke="#8e0b22" stroke-width="0.8" />
<line x1="252.7" y1="391.99" x2="257.5" y2="391.99" stroke="#8e0b22" stroke-width="0.8" />
<circle cx="255.1" cy="386.57" r="1.3" fill="#8e0b22"/>
<circle cx="253.2" cy="396.21" r="1.3" fill="#8e0b22"/>
<circle cx="257.1" cy="396.21" r="1.3" fill="#8e0b22"/>
<circle cx="255.1" cy="398.61" r="1.3" fill="#8e0b22"/>
<circle cx="251.7" cy="398.92" r="1.3" fill="#8e0b22"/>
<rect x="263.9" y="379.35" width="9.4" height="45.15" fill="#acd59b" />
<line x1="268.6" y1="379.35" x2="268.6" y2="373.03" stroke="#2f9440" stroke-width="0.8" />
<line x1="266.2" y1="373.03" x2="271" y2="373.03" stroke="#2f9440" stroke-width="0.8" />
<circle cx="268.6" cy="368.51" r="1.3" fill="#2f9440"/>
<circle cx="268.6" cy="373.03" r="1.3" fill="#2f9440"/>
<circle cx="267" cy="375.44" r="1.3" fill="#2f9440"/>
<circle cx="270.2" cy="375.44" r="1.3" fill="#2f9440"/>
<circle cx="268.6" cy="380.25" r="1.3" fill="#2f9440"/>
<circle cx="268.6" cy="392.89" r="1.3" fill="#2f9440"/>
<rect x="277.2" y="387.48" width="9.1" height="37.02" fill="#a386bd" />
<line x1="281.75" y1="387.48" x2="281.75" y2="382.66" stroke="#3c1850" stroke-width="0.8" />
<line x1="279.35" y1="382.66" x2="284.15" y2="382.66" stroke="#3c1850" stroke-width="0.8" />
<circle cx="281.75" cy="371.82" r="1.3" fill="#3c1850"/>
<circle cx="281.75" cy="384.47" r="1.3" fill="#3c1850"/>
<circle cx="279.35" cy="388.98" r="1.3" fill="#3c1850"/>
<circle cx="284.15" cy="389.58" r="1.3" fill="#3c1850"/>
<circle cx="281.75" cy="393.5" r="1.3" fill="#3c1850"/>
<line x1="229.5" y1="424.5" x2="291.9" y2="424.5" stroke="#1c1c1c" stroke-width="1.3" />
<line x1="241.8" y1="424.5" x2="241.8" y2="426.9" stroke="#1c1c1c" stroke-width="1" />
<line x1="255.3" y1="424.5" x2="255.3" y2="426.9" stroke="#1c1c1c" stroke-width="1" />
<line x1="268.4" y1="424.5" x2="268.4" y2="426.9" stroke="#1c1c1c" stroke-width="1" />
<line x1="281.7" y1="424.5" x2="281.7" y2="426.9" stroke="#1c1c1c" stroke-width="1" />
<text x="245.1" y="352.5" font-size="7.2" textLength="34.5" lengthAdjust="spacingAndGlyphs">Total MPL</text>
<line x1="260.9" y1="364.7" x2="275.7" y2="364.7" stroke="#1c1c1c" stroke-width="0.9" />
<text x="268.3" y="362.3" font-size="5.4" text-anchor="middle" textLength="18.6" lengthAdjust="spacingAndGlyphs">0.0163</text>
<text x="202.3" y="393.3" font-size="6.6" text-anchor="middle" font-weight="bold" textLength="25.7" lengthAdjust="spacingAndGlyphs" transform="rotate(-90 202.3 393.3)">Total MPL</text>
<text x="211.9" y="393.3" font-size="6.8" text-anchor="middle" textLength="47.5" lengthAdjust="spacingAndGlyphs" transform="rotate(-90 211.9 393.3)">(treated/untreated)</text>
<text x="245.4" y="435.3" font-size="6.6" text-anchor="end" textLength="24.5" lengthAdjust="spacingAndGlyphs" transform="rotate(-45 245.4 435.3)">Untreated</text>
<text x="258.9" y="435.3" font-size="6.6" text-anchor="end" textLength="19.5" lengthAdjust="spacingAndGlyphs" transform="rotate(-45 258.9 435.3)">MG132</text>
<text x="272" y="435.3" font-size="6.6" text-anchor="end" textLength="14.8" lengthAdjust="spacingAndGlyphs" transform="rotate(-45 272 435.3)">BafA1</text>
<text x="285.3" y="435.3" font-size="6.6" text-anchor="end" textLength="40" lengthAdjust="spacingAndGlyphs" transform="rotate(-45 285.3 435.3)">MG132+BafA1</text>
<line x1="337.3" y1="361" x2="337.3" y2="425.3" stroke="#1c1c1c" stroke-width="1.3" />
<line x1="334.3" y1="424.7" x2="337.3" y2="424.7" stroke="#1c1c1c" stroke-width="1" />
<text x="331.4" y="426.8" font-size="6.1" text-anchor="end">0.0</text>
<line x1="334.3" y1="404.85" x2="337.3" y2="404.85" stroke="#1c1c1c" stroke-width="1" />
<text x="331.4" y="406.95" font-size="6.1" text-anchor="end">0.5</text>
<line x1="334.3" y1="385" x2="337.3" y2="385" stroke="#1c1c1c" stroke-width="1" />
<text x="331.4" y="387.1" font-size="6.1" text-anchor="end">1.0</text>
<line x1="334.3" y1="365.15" x2="337.3" y2="365.15" stroke="#1c1c1c" stroke-width="1" />
<text x="331.4" y="367.25" font-size="6.1" text-anchor="end">1.5</text>
<rect x="342.3" y="385" width="10" height="39.7" fill="#8b97c1" />
<rect x="342.3" y="384" width="10" height="2" fill="#1e3a6e" />
<rect x="355.8" y="401.67" width="9.6" height="23.03" fill="#e6897e" />
<line x1="360.6" y1="401.67" x2="360.6" y2="397.7" stroke="#8e0b22" stroke-width="0.8" />
<line x1="358.2" y1="397.7" x2="363" y2="397.7" stroke="#8e0b22" stroke-width="0.8" />
<circle cx="357.6" cy="393.73" r="1.3" fill="#8e0b22"/>
<circle cx="363.2" cy="393.73" r="1.3" fill="#8e0b22"/>
<circle cx="361.2" cy="401.67" r="1.3" fill="#8e0b22"/>
<circle cx="357.6" cy="405.64" r="1.3" fill="#8e0b22"/>
<circle cx="361.2" cy="410.41" r="1.3" fill="#8e0b22"/>
<rect x="368.8" y="385.79" width="10" height="38.91" fill="#acd59b" />
<line x1="373.8" y1="385.79" x2="373.8" y2="381.82" stroke="#2f9440" stroke-width="0.8" />
<line x1="371.4" y1="381.82" x2="376.2" y2="381.82" stroke="#2f9440" stroke-width="0.8" />
<circle cx="374.6" cy="375.87" r="1.3" fill="#2f9440"/>
<circle cx="372.1" cy="381.43" r="1.3" fill="#2f9440"/>
<circle cx="374.6" cy="385" r="1.3" fill="#2f9440"/>
<circle cx="372.1" cy="391.75" r="1.3" fill="#2f9440"/>
<circle cx="376.4" cy="391.75" r="1.3" fill="#2f9440"/>
<rect x="382.3" y="406.44" width="9.6" height="18.26" fill="#a386bd" />
<line x1="387.1" y1="406.44" x2="387.1" y2="403.66" stroke="#3c1850" stroke-width="0.8" />
<line x1="384.7" y1="403.66" x2="389.5" y2="403.66" stroke="#3c1850" stroke-width="0.8" />
<circle cx="387.1" cy="400.09" r="1.3" fill="#3c1850"/>
<circle cx="384.3" cy="406.44" r="1.3" fill="#3c1850"/>
<circle cx="389.9" cy="406.44" r="1.3" fill="#3c1850"/>
<circle cx="387.1" cy="404.85" r="1.3" fill="#3c1850"/>
<line x1="335.3" y1="424.7" x2="398.5" y2="424.7" stroke="#1c1c1c" stroke-width="1.3" />
<line x1="347.5" y1="424.7" x2="347.5" y2="427.1" stroke="#1c1c1c" stroke-width="1" />
<line x1="361" y1="424.7" x2="361" y2="427.1" stroke="#1c1c1c" stroke-width="1" />
<line x1="374.4" y1="424.7" x2="374.4" y2="427.1" stroke="#1c1c1c" stroke-width="1" />
<line x1="387.9" y1="424.7" x2="387.9" y2="427.1" stroke="#1c1c1c" stroke-width="1" />
<text x="342.7" y="353.1" font-size="7.2" textLength="49.2" lengthAdjust="spacingAndGlyphs">Immature MPL</text>
<line x1="351" y1="373.1" x2="370.2" y2="373.1" stroke="#1c1c1c" stroke-width="0.9" />
<text x="360.6" y="370.7" font-size="5.4" text-anchor="middle" textLength="18.6" lengthAdjust="spacingAndGlyphs">0.0078</text>
<line x1="377.9" y1="378.5" x2="396.2" y2="378.5" stroke="#1c1c1c" stroke-width="0.9" />
<text x="387.05" y="376.1" font-size="5.4" text-anchor="middle" textLength="18.6" lengthAdjust="spacingAndGlyphs">0.0002</text>
<text x="308.2" y="393.2" font-size="6.6" text-anchor="middle" font-weight="bold" textLength="38" lengthAdjust="spacingAndGlyphs" transform="rotate(-90 308.2 393.2)">Immature MPL</text>
<text x="317.6" y="392.9" font-size="6.8" text-anchor="middle" textLength="48" lengthAdjust="spacingAndGlyphs" transform="rotate(-90 317.6 392.9)">(treated/untreated)</text>
<text x="351.1" y="435.5" font-size="6.6" text-anchor="end" textLength="24.5" lengthAdjust="spacingAndGlyphs" transform="rotate(-45 351.1 435.5)">Untreated</text>
<text x="364.6" y="435.5" font-size="6.6" text-anchor="end" textLength="19.5" lengthAdjust="spacingAndGlyphs" transform="rotate(-45 364.6 435.5)">MG132</text>
<text x="378" y="435.5" font-size="6.6" text-anchor="end" textLength="14.8" lengthAdjust="spacingAndGlyphs" transform="rotate(-45 378 435.5)">BafA1</text>
<text x="391.5" y="435.5" font-size="6.6" text-anchor="end" textLength="40" lengthAdjust="spacingAndGlyphs" transform="rotate(-45 391.5 435.5)">MG132+BafA1</text>
<line x1="438.8" y1="361" x2="438.8" y2="425.6" stroke="#1c1c1c" stroke-width="1.3" />
<line x1="435.8" y1="425" x2="438.8" y2="425" stroke="#1c1c1c" stroke-width="1" />
<text x="432.9" y="427.1" font-size="6.1" text-anchor="end">0</text>
<line x1="435.8" y1="412.7" x2="438.8" y2="412.7" stroke="#1c1c1c" stroke-width="1" />
<text x="432.9" y="414.8" font-size="6.1" text-anchor="end">1</text>
<line x1="435.8" y1="400.4" x2="438.8" y2="400.4" stroke="#1c1c1c" stroke-width="1" />
<text x="432.9" y="402.5" font-size="6.1" text-anchor="end">2</text>
<line x1="435.8" y1="388.1" x2="438.8" y2="388.1" stroke="#1c1c1c" stroke-width="1" />
<text x="432.9" y="390.2" font-size="6.1" text-anchor="end">3</text>
<line x1="435.8" y1="375.8" x2="438.8" y2="375.8" stroke="#1c1c1c" stroke-width="1" />
<text x="432.9" y="377.9" font-size="6.1" text-anchor="end">4</text>
<line x1="435.8" y1="363.5" x2="438.8" y2="363.5" stroke="#1c1c1c" stroke-width="1" />
<text x="432.9" y="365.6" font-size="6.1" text-anchor="end">5</text>
<rect x="443" y="412.7" width="10.4" height="12.3" fill="#8b97c1" />
<rect x="443" y="411.7" width="10.4" height="2" fill="#1e3a6e" />
<rect x="457.2" y="403.11" width="9.8" height="21.89" fill="#e6897e" />
<line x1="462.1" y1="403.11" x2="462.1" y2="401.63" stroke="#8e0b22" stroke-width="0.8" />
<line x1="459.7" y1="401.63" x2="464.5" y2="401.63" stroke="#8e0b22" stroke-width="0.8" />
<circle cx="458.7" cy="400.65" r="1.3" fill="#8e0b22"/>
<circle cx="465.9" cy="402.25" r="1.3" fill="#8e0b22"/>
<circle cx="462.5" cy="403.97" r="1.3" fill="#8e0b22"/>
<circle cx="458.7" cy="405.94" r="1.3" fill="#8e0b22"/>
<circle cx="465.9" cy="406.18" r="1.3" fill="#8e0b22"/>
<rect x="470.5" y="394.25" width="9.6" height="30.75" fill="#acd59b" />
<line x1="475.3" y1="394.25" x2="475.3" y2="389.33" stroke="#2f9440" stroke-width="0.8" />
<line x1="472.9" y1="389.33" x2="477.7" y2="389.33" stroke="#2f9440" stroke-width="0.8" />
<circle cx="475.3" cy="384.41" r="1.3" fill="#2f9440"/>
<circle cx="475.3" cy="390.56" r="1.3" fill="#2f9440"/>
<circle cx="475.3" cy="396.71" r="1.3" fill="#2f9440"/>
<circle cx="475.3" cy="408.27" r="1.3" fill="#2f9440"/>
<circle cx="472.8" cy="393.02" r="1.3" fill="#2f9440"/>
<rect x="483.7" y="393.02" width="9.8" height="31.98" fill="#a386bd" />
<line x1="488.6" y1="393.02" x2="488.6" y2="386.87" stroke="#3c1850" stroke-width="0.8" />
<line x1="486.2" y1="386.87" x2="491" y2="386.87" stroke="#3c1850" stroke-width="0.8" />
<circle cx="488.6" cy="377.52" r="1.3" fill="#3c1850"/>
<circle cx="488.6" cy="390.56" r="1.3" fill="#3c1850"/>
<circle cx="488.6" cy="396.71" r="1.3" fill="#3c1850"/>
<circle cx="488.6" cy="402" r="1.3" fill="#3c1850"/>
<line x1="436.8" y1="425" x2="498.8" y2="425" stroke="#1c1c1c" stroke-width="1.3" />
<line x1="448.1" y1="425" x2="448.1" y2="427.4" stroke="#1c1c1c" stroke-width="1" />
<line x1="461.5" y1="425" x2="461.5" y2="427.4" stroke="#1c1c1c" stroke-width="1" />
<line x1="475" y1="425" x2="475" y2="427.4" stroke="#1c1c1c" stroke-width="1" />
<line x1="487.9" y1="425" x2="487.9" y2="427.4" stroke="#1c1c1c" stroke-width="1" />
<text x="446.1" y="342.5" font-size="7.2" textLength="48.6" lengthAdjust="spacingAndGlyphs">Mature MPL/</text>
<text x="432.9" y="353.4" font-size="7.2" textLength="71" lengthAdjust="spacingAndGlyphs">Partially mature MPL</text>
<line x1="452.4" y1="392.2" x2="469.7" y2="392.2" stroke="#1c1c1c" stroke-width="0.9" />
<text x="461.05" y="389.8" font-size="5.4" text-anchor="middle" textLength="18.6" lengthAdjust="spacingAndGlyphs">0.0011</text>
<line x1="465.9" y1="380.5" x2="483.7" y2="380.5" stroke="#1c1c1c" stroke-width="0.9" />
<text x="474.8" y="378.1" font-size="5.4" text-anchor="middle" textLength="18.6" lengthAdjust="spacingAndGlyphs">0.0102</text>
<line x1="479.5" y1="368.6" x2="497.2" y2="368.6" stroke="#1c1c1c" stroke-width="0.9" />
<text x="488.35" y="366.2" font-size="5.4" text-anchor="middle" textLength="18.6" lengthAdjust="spacingAndGlyphs">0.0187</text>
<text x="413.3" y="392.9" font-size="6.6" text-anchor="middle" font-weight="bold" textLength="30.6" lengthAdjust="spacingAndGlyphs" transform="rotate(-90 413.3 392.9)">Mature MPL</text>
<text x="423" y="393.3" font-size="6.8" text-anchor="middle" textLength="47.5" lengthAdjust="spacingAndGlyphs" transform="rotate(-90 423 393.3)">(treated/untreated)</text>
<text x="451.7" y="435.8" font-size="6.6" text-anchor="end" textLength="24.5" lengthAdjust="spacingAndGlyphs" transform="rotate(-45 451.7 435.8)">Untreated</text>
<text x="465.1" y="435.8" font-size="6.6" text-anchor="end" textLength="19.5" lengthAdjust="spacingAndGlyphs" transform="rotate(-45 465.1 435.8)">MG132</text>
<text x="478.6" y="435.8" font-size="6.6" text-anchor="end" textLength="14.8" lengthAdjust="spacingAndGlyphs" transform="rotate(-45 478.6 435.8)">BafA1</text>
<text x="491.5" y="435.8" font-size="6.6" text-anchor="end" textLength="40" lengthAdjust="spacingAndGlyphs" transform="rotate(-45 491.5 435.8)">MG132+BafA1</text>
</svg>
</body></html>
